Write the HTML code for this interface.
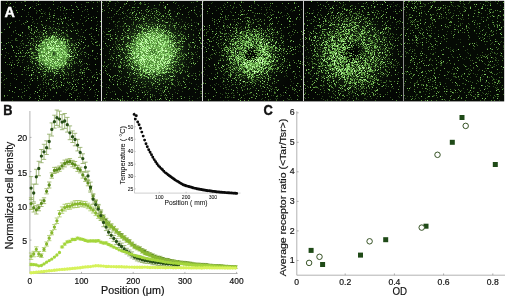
<!DOCTYPE html>
<html lang="en"><head><meta charset="utf-8"><title>Figure</title>
<style>html,body{margin:0;padding:0;background:#fff}svg{display:block;will-change:transform}text{font-family:"Liberation Sans","DejaVu Sans",sans-serif;fill:#111;stroke:#111;stroke-width:.18}.bl{stroke-width:.4}#inset text{stroke-width:.05}</style></head><body>
<svg width="506" height="298" viewBox="0 0 506 298">
<rect width="506" height="298" fill="#fff"/>
<defs><filter id="soft" x="0" y="0" width="100%" height="100%"><feGaussianBlur stdDeviation="0.45"/></filter><clipPath id="cpA"><rect x="1" y="1" width="503" height="100"/></clipPath></defs>
<rect x="0.8" y="0.8" width="503.4" height="100.6" fill="#030503"/>
<defs><radialGradient id="ug0" gradientUnits="userSpaceOnUse" cx="53.6" cy="53.6" r="40"><stop offset="0.000" stop-color="#74d25a" stop-opacity="0.2"/><stop offset="0.062" stop-color="#74d25a" stop-opacity="0.66"/><stop offset="0.325" stop-color="#74d25a" stop-opacity="0.66"/><stop offset="0.412" stop-color="#74d25a" stop-opacity="0.16"/><stop offset="0.625" stop-color="#74d25a" stop-opacity="0.05"/><stop offset="1.000" stop-color="#74d25a" stop-opacity="0.01"/></radialGradient><radialGradient id="ug1" gradientUnits="userSpaceOnUse" cx="153.2" cy="52.0" r="50"><stop offset="0.000" stop-color="#74d25a" stop-opacity="0.4"/><stop offset="0.060" stop-color="#74d25a" stop-opacity="0.6"/><stop offset="0.340" stop-color="#74d25a" stop-opacity="0.6"/><stop offset="0.480" stop-color="#74d25a" stop-opacity="0.2"/><stop offset="0.700" stop-color="#74d25a" stop-opacity="0.07"/><stop offset="1.000" stop-color="#74d25a" stop-opacity="0.02"/></radialGradient><radialGradient id="ug2" gradientUnits="userSpaceOnUse" cx="251.6" cy="55.5" r="45"><stop offset="0.000" stop-color="#74d25a" stop-opacity="0"/><stop offset="0.111" stop-color="#74d25a" stop-opacity="0.02"/><stop offset="0.222" stop-color="#74d25a" stop-opacity="0.18"/><stop offset="0.400" stop-color="#74d25a" stop-opacity="0.17"/><stop offset="0.622" stop-color="#74d25a" stop-opacity="0.05"/><stop offset="1.000" stop-color="#74d25a" stop-opacity="0.01"/></radialGradient><radialGradient id="ug3" gradientUnits="userSpaceOnUse" cx="352.0" cy="53.0" r="55"><stop offset="0.000" stop-color="#74d25a" stop-opacity="0.0"/><stop offset="0.127" stop-color="#74d25a" stop-opacity="0.02"/><stop offset="0.236" stop-color="#74d25a" stop-opacity="0.13"/><stop offset="0.473" stop-color="#74d25a" stop-opacity="0.12"/><stop offset="0.727" stop-color="#74d25a" stop-opacity="0.04"/><stop offset="1.000" stop-color="#74d25a" stop-opacity="0.01"/></radialGradient></defs>
<rect x="1" y="1" width="100" height="100" fill="url(#ug0)"/>
<rect x="102" y="1" width="100" height="100" fill="url(#ug1)"/>
<rect x="203" y="1" width="100" height="100" fill="url(#ug2)"/>
<rect x="304" y="1" width="99" height="100" fill="url(#ug3)"/>
<rect x="404" y="1" width="100" height="100" fill="#62c04a" opacity=".03"/>
<g clip-path="url(#cpA)"><g filter="url(#soft)" transform="translate(0 .5)" stroke-width="1" fill="none">
<path d="M91 1h1M97 1h1M174 1h1M118 2h1M176 2h1M212 2h1M374 2h1M224 3h1M266 3h1M296 3h1M9 4h1M40 4h1M45 4h1M389 4h1M391 4h1M396 5h1M32 6h1M58 6h1M182 6h1M215 6h1M270 6h1M393 6h1M396 6h1M399 6h1M15 7h1M92 7h1M267 7h1M286 7h1M390 7h1M48 8h1M287 8h1M402 8h1M114 9h1M226 9h1M285 9h1M317 9h1M24 10h1M65 10h1M84 10h1M290 10h1M13 11h1M37 11h1M43 11h1M87 11h1M199 11h1M292 11h1M393 11h1M45 12h1M313 12h1M45 14h1M71 15h1M284 15h1M86 16h1M93 16h1M113 16h1M94 18h1M400 18h1M299 19h1M200 21h1M196 22h1M197 23h1M207 26h1M290 26h1M15 27h1M458 30h1M98 31h1M2 32h1M102 33h1M90 34h1M469 36h1M480 37h1M444 38h1M95 39h1M458 39h1M460 39h1M11 40h2M301 41h1M476 42h1M3 45h2M450 47h1M450 49h1M474 49h1M456 50h1M300 51h1M204 52h1M467 52h1M470 54h1M203 57h1M464 59h1M442 62h1M89 69h1M205 69h1M91 72h1M94 74h1M207 75h1M203 76h1M196 78h1M210 79h1M205 80h1M111 82h1M293 83h1M106 84h1M196 84h1M85 85h1M215 85h1M283 85h1M4 87h1M29 88h1M91 88h1M77 89h1M82 89h1M41 90h1M89 90h1M106 90h1M215 90h1M63 91h1M65 92h1M225 93h1M286 93h1M30 94h1M399 94h1M79 96h1M225 96h1M280 96h1M199 97h1M231 97h1M275 98h1M97 100h1M223 100h1M228 100h1M268 100h1" stroke="#1b3213"/>
<path d="M7 1h1M33 1h1M99 1h1M106 1h1M117 1h1M196 1h1M203 1h1M327 1h1M337 1h1M412 1h1M418 1h2M435 1h1M440 1h1M450 1h1M459 1h1M469 1h2M486 1h2M490 1h1M495 1h1M21 2h1M87 2h1M144 2h1M193 2h1M234 2h1M243 2h1M254 2h1M317 2h1M393 2h1M408 2h1M432 2h1M434 2h1M450 2h1M453 2h1M469 2h1M488 2h1M36 3h1M115 3h1M124 3h1M135 3h1M141 3h1M148 3h1M211 3h1M254 3h1M358 3h1M365 3h1M404 3h1M417 3h1M423 3h1M460 3h1M463 3h1M468 3h1M480 3h1M81 4h1M125 4h1M134 4h1M225 4h1M239 4h1M257 4h1M343 4h1M345 4h1M367 4h1M380 4h1M397 4h1M417 4h1M424 4h2M108 5h1M115 5h1M129 5h1M159 5h1M163 5h1M183 5h1M208 5h1M251 5h1M270 5h1M333 5h1M352 5h1M414 5h1M425 5h1M445 5h1M452 5h1M457 5h2M487 5h1M500 5h1M62 6h1M97 6h1M107 6h1M227 6h1M233 6h1M276 6h1M285 6h1M329 6h1M332 6h1M342 6h1M366 6h1M375 6h1M419 6h1M424 6h1M430 6h1M447 6h1M453 6h1M455 6h1M458 6h1M463 6h1M470 6h1M49 7h1M81 7h1M137 7h1M179 7h1M194 7h1M220 7h1M241 7h1M261 7h1M265 7h1M269 7h1M341 7h1M371 7h1M380 7h1M464 7h2M112 8h1M122 8h1M153 8h4M254 8h2M352 8h1M416 8h1M445 8h1M457 8h1M60 9h1M67 9h1M69 9h1M73 9h1M85 9h1M131 9h1M134 9h1M158 9h1M169 9h1M194 9h1M203 9h1M261 9h1M269 9h1M271 9h1M291 9h1M301 9h1M329 9h1M337 9h1M345 9h1M365 9h1M395 9h1M400 9h1M409 9h1M418 9h1M448 9h2M464 9h1M489 9h1M7 10h1M36 10h1M60 10h1M63 10h1M118 10h1M131 10h1M164 10h1M170 10h1M216 10h1M251 10h1M266 10h1M293 10h1M313 10h1M333 10h1M373 10h1M376 10h2M381 10h1M414 10h1M421 10h1M443 10h1M454 10h1M474 10h2M489 10h1M40 11h1M97 11h1M116 11h1M123 11h1M156 11h1M158 11h1M174 11h1M189 11h1M230 11h1M243 11h1M274 11h1M278 11h1M328 11h1M330 11h1M332 11h1M350 11h1M359 11h1M371 11h1M424 11h1M459 11h1M463 11h1M465 11h1M478 11h1M499 11h1M28 12h1M36 12h1M49 12h1M147 12h1M194 12h1M231 12h1M240 12h1M253 12h1M267 12h1M270 12h1M339 12h1M350 12h2M355 12h1M359 12h1M363 12h1M406 12h1M419 12h1M448 12h1M36 13h1M49 13h1M54 13h1M63 13h1M125 13h1M129 13h1M143 13h1M150 13h1M155 13h1M195 13h1M207 13h1M247 13h1M261 13h1M266 13h1M305 13h1M311 13h1M343 13h1M397 13h1M425 13h1M449 13h1M453 13h1M28 14h1M118 14h1M120 14h1M131 14h1M156 14h1M168 14h1M188 14h1M201 14h1M243 14h1M270 14h1M288 14h1M320 14h1M357 14h1M377 14h1M385 14h1M410 14h1M432 14h1M478 14h1M487 14h1M64 15h1M126 15h1M132 15h1M146 15h1M225 15h1M232 15h1M265 15h1M286 15h1M317 15h1M338 15h1M340 15h2M406 15h1M409 15h1M430 15h1M436 15h1M439 15h1M499 15h1M40 16h1M49 16h2M60 16h1M141 16h1M155 16h1M171 16h1M175 16h1M200 16h1M254 16h1M330 16h1M336 16h1M338 16h1M416 16h1M421 16h1M441 16h1M477 16h2M497 16h1M32 17h1M39 17h1M68 17h1M73 17h1M107 17h1M146 17h1M166 17h1M186 17h1M225 17h1M227 17h1M245 17h2M249 17h1M274 17h1M288 17h1M300 17h1M330 17h1M339 17h1M348 17h1M365 17h1M378 17h1M380 17h1M390 17h1M446 17h1M462 17h1M481 17h1M497 17h1M39 18h1M47 18h1M56 18h1M58 18h1M60 18h1M119 18h1M144 18h1M147 18h1M160 18h1M172 18h1M178 18h1M225 18h1M244 18h1M258 18h1M276 18h1M318 18h1M326 18h1M339 18h1M365 18h1M373 18h1M375 18h1M393 18h1M408 18h1M431 18h1M438 18h2M446 18h1M452 18h1M460 18h1M488 18h1M36 19h1M80 19h1M111 19h1M126 19h1M133 19h1M152 19h1M159 19h1M171 19h1M181 19h1M191 19h1M220 19h1M225 19h1M232 19h1M236 19h1M256 19h1M264 19h1M287 19h1M311 19h1M313 19h1M331 19h1M352 19h1M408 19h1M431 19h1M463 19h1M481 19h1M486 19h1M19 20h1M26 20h1M68 20h1M173 20h1M191 20h1M216 20h1M223 20h1M259 20h1M309 20h1M314 20h1M326 20h1M328 20h1M349 20h1M351 20h1M355 20h1M361 20h1M388 20h1M410 20h1M412 20h1M434 20h1M473 20h1M475 20h1M492 20h1M503 20h1M33 21h1M63 21h1M85 21h1M97 21h1M114 21h1M119 21h1M133 21h1M138 21h1M168 21h1M170 21h1M182 21h1M245 21h1M247 21h1M250 21h1M272 21h1M292 21h1M316 21h1M364 21h1M373 21h1M398 21h1M416 21h1M26 22h1M32 22h1M77 22h1M113 22h1M146 22h1M179 22h1M185 22h1M194 22h1M223 22h1M248 22h2M343 22h1M366 22h1M392 22h1M414 22h1M432 22h1M7 23h1M34 23h1M66 23h1M77 23h2M148 23h1M174 23h1M188 23h1M191 23h1M224 23h1M230 23h1M240 23h1M247 23h1M252 23h2M310 23h1M399 23h1M424 23h1M460 23h1M462 23h1M477 23h1M480 23h1M21 24h1M24 24h1M42 24h1M59 24h1M67 24h1M77 24h1M97 24h1M115 24h1M124 24h1M131 24h1M169 24h2M233 24h1M246 24h1M251 24h1M264 24h1M326 24h1M336 24h1M365 24h1M371 24h1M374 24h1M377 24h1M396 24h1M424 24h1M460 24h1M469 24h1M477 24h1M496 24h2M499 24h1M46 25h1M96 25h1M123 25h1M127 25h2M132 25h1M141 25h1M189 25h1M192 25h1M203 25h1M224 25h1M230 25h1M334 25h1M390 25h1M415 25h1M417 25h1M449 25h1M456 25h1M458 25h1M488 25h1M9 26h1M58 26h1M115 26h1M117 26h1M120 26h1M122 26h2M140 26h1M172 26h1M179 26h1M195 26h1M226 26h1M241 26h1M251 26h1M289 26h1M319 26h1M371 26h1M410 26h1M485 26h1M503 26h1M62 27h1M66 27h1M224 27h1M237 27h1M271 27h1M385 27h1M387 27h1M394 27h1M426 27h1M446 27h1M454 27h1M476 27h1M48 28h1M50 28h1M52 28h1M58 28h1M106 28h1M108 28h1M117 28h1M124 28h1M136 28h1M196 28h1M201 28h1M220 28h1M224 28h1M233 28h1M243 28h1M270 28h1M272 28h1M314 28h2M381 28h1M383 28h1M401 28h1M408 28h1M416 28h1M431 28h1M469 28h1M479 28h1M501 28h1M51 29h1M57 29h1M67 29h1M77 29h1M86 29h1M93 29h1M99 29h1M111 29h1M113 29h1M128 29h1M170 29h1M186 29h1M211 29h1M250 29h1M260 29h1M262 29h1M293 29h1M374 29h2M388 29h1M390 29h1M404 29h1M457 29h1M37 30h1M49 30h1M58 30h1M73 30h1M77 30h1M178 30h1M193 30h1M198 30h1M200 30h1M239 30h1M320 30h1M388 30h1M410 30h1M418 30h1M427 30h1M429 30h1M438 30h1M34 31h1M40 31h1M56 31h1M103 31h1M130 31h1M207 31h2M213 31h1M216 31h1M219 31h2M237 31h1M265 31h1M271 31h1M279 31h1M308 31h1M373 31h1M384 31h1M447 31h1M451 31h1M454 31h1M474 31h1M480 31h1M490 31h2M13 32h1M39 32h1M41 32h2M104 32h1M115 32h1M180 32h1M230 32h1M265 32h1M273 32h2M289 32h1M302 32h1M378 32h1M384 32h1M388 32h1M462 32h1M486 32h1M492 32h1M501 32h1M16 33h1M22 33h1M32 33h1M34 33h1M45 33h1M55 33h1M65 33h1M77 33h1M91 33h1M126 33h1M212 33h1M220 33h1M224 33h1M232 33h1M281 33h1M317 33h1M378 33h1M392 33h1M434 33h1M451 33h1M476 33h1M485 33h1M496 33h1M20 34h1M28 34h1M42 34h1M109 34h1M125 34h1M130 34h1M225 34h1M229 34h1M270 34h1M272 34h2M275 34h1M293 34h1M309 34h1M396 34h1M438 34h1M11 35h1M19 35h1M25 35h1M42 35h1M66 35h1M78 35h1M98 35h1M110 35h1M112 35h1M117 35h1M184 35h1M193 35h1M283 35h1M289 35h1M291 35h1M309 35h1M315 35h1M320 35h1M389 35h1M413 35h1M418 35h1M428 35h1M29 36h1M31 36h1M64 36h1M68 36h1M80 36h1M94 36h1M104 36h1M126 36h1M180 36h1M185 36h1M226 36h1M408 36h1M416 36h1M429 36h2M478 36h1M487 36h1M489 36h1M116 37h1M196 37h1M226 37h1M275 37h1M379 37h1M384 37h1M391 37h1M393 37h1M418 37h1M423 37h1M430 37h1M482 37h1M501 37h3M8 38h1M15 38h1M38 38h1M91 38h1M106 38h1M112 38h1M120 38h1M122 38h1M182 38h1M188 38h1M212 38h1M227 38h1M282 38h1M302 38h1M382 38h2M385 38h1M395 38h1M401 38h1M421 38h1M446 38h2M489 38h1M77 39h1M79 39h1M81 39h1M93 39h1M112 39h1M117 39h1M216 39h1M227 39h1M386 39h1M392 39h1M419 39h1M429 39h1M468 39h1M15 40h1M17 40h1M69 40h1M72 40h1M74 40h1M79 40h1M117 40h1M119 40h1M209 40h1M218 40h1M274 40h1M290 40h1M409 40h1M413 40h1M415 40h1M426 40h1M33 41h2M96 41h1M103 41h1M118 41h1M195 41h1M210 41h1M321 41h1M437 41h1M441 41h1M487 41h1M497 41h1M501 41h1M76 42h1M115 42h1M206 42h1M221 42h1M223 42h1M225 42h1M307 42h1M315 42h1M319 42h1M405 42h1M414 42h1M420 42h1M460 42h1M492 42h1M500 42h1M503 42h1M20 43h1M22 43h2M72 43h1M115 43h1M188 43h1M200 43h1M204 43h1M220 43h1M281 43h1M283 43h1M313 43h1M316 43h1M319 43h1M387 43h1M393 43h1M400 43h1M412 43h1M418 43h1M469 43h2M491 43h1M23 44h1M30 44h1M71 44h1M73 44h1M80 44h1M99 44h1M116 44h1M209 44h1M275 44h1M392 44h1M456 44h1M476 44h1M485 44h1M490 44h1M21 45h1M25 45h1M27 45h2M75 45h1M117 45h1M188 45h1M218 45h1M223 45h1M300 45h1M395 45h1M433 45h1M437 45h1M503 45h1M19 46h1M87 46h1M115 46h1M117 46h1M119 46h1M125 46h1M189 46h2M218 46h1M279 46h1M295 46h1M361 46h1M404 46h1M417 46h1M429 46h1M431 46h1M503 46h1M17 47h1M73 47h1M191 47h1M219 47h1M224 47h1M291 47h1M299 47h1M306 47h1M317 47h1M388 47h1M410 47h1M433 47h1M503 47h1M19 48h2M32 48h1M103 48h1M282 48h2M310 48h1M354 48h1M390 48h2M393 48h1M422 48h1M435 48h1M473 48h1M487 48h1M80 49h1M114 49h1M120 49h1M278 49h1M352 49h1M384 49h1M386 49h1M392 49h1M410 49h1M412 49h1M414 49h1M433 49h1M453 49h1M467 49h1M491 49h1M503 49h1M79 50h1M93 50h1M113 50h1M305 50h1M359 50h1M414 50h1M465 50h1M20 51h1M30 51h1M74 51h1M82 51h1M109 51h1M114 51h1M197 51h1M221 51h1M285 51h1M289 51h1M298 51h1M389 51h1M400 51h1M450 51h1M491 51h1M6 52h1M23 52h1M31 52h1M76 52h1M81 52h1M222 52h1M308 52h1M406 52h1M435 52h1M492 52h1M500 52h1M8 53h1M20 53h2M86 53h1M289 53h1M302 53h1M398 53h1M406 53h1M408 53h1M411 53h1M414 53h2M430 53h1M468 53h1M494 53h2M192 54h1M211 54h2M221 54h1M224 54h1M252 54h1M281 54h1M286 54h1M302 54h1M358 54h1M402 54h1M424 54h1M451 54h1M477 54h1M485 54h1M488 54h1M496 54h1M15 55h1M79 55h1M90 55h1M92 55h1M105 55h1M111 55h1M210 55h1M219 55h1M281 55h1M315 55h2M392 55h1M420 55h1M480 55h1M490 55h1M501 55h1M11 56h1M23 56h1M30 56h1M96 56h1M111 56h1M223 56h1M306 56h1M312 56h1M452 56h1M4 57h1M27 57h1M29 57h1M88 57h1M110 57h1M120 57h1M197 57h1M206 57h1M210 57h1M304 57h1M309 57h1M412 57h1M466 57h1M492 57h1M18 58h1M31 58h1M77 58h1M95 58h1M199 58h1M211 58h1M220 58h1M278 58h1M308 58h1M389 58h1M412 58h1M422 58h1M430 58h1M440 58h1M462 58h1M493 58h1M496 58h1M503 58h1M23 59h1M79 59h2M82 59h1M116 59h1M120 59h1M182 59h1M190 59h1M220 59h1M223 59h1M284 59h1M287 59h1M387 59h1M389 59h1M430 59h1M479 59h1M495 59h1M12 60h1M16 60h1M19 60h1M22 60h1M31 60h1M79 60h1M123 60h1M193 60h1M206 60h1M218 60h2M413 60h1M424 60h1M470 60h1M496 60h1M104 61h1M190 61h1M286 61h1M298 61h1M304 61h1M385 61h1M389 61h1M412 61h1M488 61h1M12 62h1M22 62h1M123 62h1M182 62h1M184 62h1M189 62h1M282 62h1M302 62h1M312 62h1M391 62h1M443 62h1M447 62h1M497 62h1M17 63h1M75 63h1M77 63h1M80 63h1M84 63h1M110 63h1M205 63h1M281 63h1M309 63h1M312 63h1M315 63h1M387 63h1M389 63h1M446 63h1M454 63h1M484 63h1M7 64h1M82 64h1M89 64h1M114 64h1M119 64h1M127 64h1M180 64h1M186 64h1M276 64h1M304 64h1M312 64h1M315 64h1M383 64h1M399 64h1M417 64h1M431 64h1M441 64h1M463 64h1M485 64h1M489 64h1M498 64h1M78 65h1M81 65h1M102 65h1M104 65h1M107 65h1M113 65h1M118 65h1M179 65h1M208 65h1M216 65h1M281 65h1M287 65h1M309 65h1M318 65h1M320 65h1M385 65h1M393 65h3M397 65h1M405 65h1M432 65h1M440 65h2M487 65h1M496 65h1M80 66h1M113 66h1M184 66h1M186 66h1M188 66h1M191 66h1M279 66h1M285 66h1M314 66h1M387 66h1M409 66h1M466 66h1M493 66h2M13 67h1M107 67h1M382 67h1M396 67h1M417 67h1M420 67h1M436 67h2M491 67h1M11 68h1M69 68h1M74 68h1M127 68h1M227 68h1M287 68h1M290 68h1M314 68h1M317 68h1M419 68h2M473 68h1M485 68h1M81 69h1M86 69h1M96 69h1M182 69h1M187 69h1M274 69h1M309 69h1M320 69h1M395 69h1M434 69h1M456 69h1M467 69h1M470 69h1M479 69h1M502 69h1M10 70h1M26 70h1M36 70h1M80 70h1M84 70h1M90 70h1M184 70h1M386 70h1M478 70h1M486 70h1M22 71h1M36 71h1M43 71h1M71 71h1M73 71h1M81 71h1M106 71h1M173 71h1M181 71h1M199 71h1M225 71h1M277 71h1M279 71h1M285 71h1M406 71h1M417 71h1M449 71h1M469 71h1M491 71h1M63 72h1M72 72h1M83 72h1M103 72h1M119 72h1M179 72h1M228 72h1M292 72h1M309 72h1M398 72h1M406 72h1M408 72h1M434 72h1M499 72h1M501 72h1M71 73h1M80 73h1M106 73h1M108 73h1M121 73h1M132 73h1M193 73h1M201 73h1M211 73h1M224 73h1M274 73h1M286 73h1M295 73h1M309 73h1M318 73h1M377 73h1M385 73h1M410 73h1M419 73h1M451 73h1M453 73h1M468 73h1M470 73h1M473 73h1M497 73h1M14 74h1M26 74h1M32 74h2M40 74h1M65 74h1M73 74h1M96 74h1M131 74h1M174 74h1M188 74h1M204 74h1M215 74h1M295 74h1M316 74h1M381 74h1M397 74h1M406 74h1M454 74h1M462 74h1M464 74h1M468 74h1M475 74h1M477 74h1M482 74h1M35 75h1M68 75h1M73 75h1M81 75h1M93 75h1M129 75h2M175 75h1M188 75h1M191 75h1M199 75h1M224 75h1M231 75h1M270 75h2M286 75h1M299 75h1M313 75h1M323 75h1M383 75h1M445 75h1M461 75h1M481 75h1M17 76h1M45 76h1M54 76h1M63 76h1M79 76h1M129 76h1M137 76h1M189 76h1M196 76h1M284 76h1M287 76h1M300 76h1M304 76h1M312 76h1M324 76h1M386 76h1M453 76h2M483 76h1M1 77h1M37 77h1M44 77h2M53 77h1M73 77h1M125 77h1M127 77h1M167 77h1M169 77h1M177 77h1M183 77h1M222 77h1M230 77h1M269 77h1M304 77h1M318 77h1M382 77h1M402 77h1M410 77h1M424 77h1M430 77h1M455 77h1M458 77h1M470 77h1M489 77h1M492 77h1M501 77h1M14 78h1M34 78h1M53 78h1M56 78h1M63 78h1M68 78h1M81 78h1M116 78h1M130 78h1M165 78h1M172 78h1M184 78h1M220 78h1M223 78h2M226 78h1M233 78h1M311 78h1M321 78h1M419 78h1M427 78h2M446 78h1M448 78h1M493 78h1M25 79h1M30 79h1M43 79h1M49 79h1M74 79h1M76 79h1M86 79h1M89 79h1M119 79h1M130 79h1M158 79h1M160 79h1M198 79h1M274 79h1M290 79h1M406 79h1M451 79h1M465 79h1M482 79h1M494 79h1M496 79h1M3 80h1M37 80h1M42 80h1M48 80h1M52 80h1M73 80h1M75 80h1M77 80h1M114 80h1M170 80h1M175 80h1M239 80h1M254 80h1M259 80h1M265 80h1M277 80h1M314 80h1M324 80h1M328 80h1M380 80h2M389 80h1M417 80h1M430 80h1M435 80h1M67 81h1M91 81h1M110 81h1M137 81h1M142 81h1M150 81h1M159 81h1M224 81h1M248 81h1M253 81h1M255 81h2M291 81h1M307 81h1M386 81h1M389 81h1M391 81h1M398 81h1M417 81h1M432 81h2M470 81h1M494 81h1M499 81h1M1 82h1M48 82h1M70 82h1M77 82h1M91 82h1M102 82h1M120 82h1M152 82h1M158 82h1M189 82h1M203 82h1M222 82h1M253 82h1M264 82h1M272 82h1M304 82h1M323 82h1M375 82h1M377 82h1M381 82h1M417 82h1M429 82h1M439 82h2M485 82h1M500 82h1M10 83h1M53 83h1M64 83h1M71 83h1M117 83h1M137 83h1M143 83h1M146 83h1M151 83h1M159 83h2M171 83h1M178 83h1M180 83h1M216 83h1M245 83h1M263 83h1M274 83h1M298 83h1M372 83h1M415 83h1M440 83h1M445 83h1M462 83h2M499 83h1M40 84h1M55 84h1M69 84h1M83 84h1M94 84h1M120 84h1M144 84h1M214 84h1M218 84h1M223 84h1M233 84h1M237 84h1M245 84h1M251 84h1M255 84h1M264 84h1M266 84h1M311 84h1M323 84h1M331 84h1M370 84h1M386 84h1M414 84h1M417 84h1M422 84h2M432 84h1M457 84h1M494 84h1M10 85h1M27 85h1M53 85h1M109 85h1M117 85h1M133 85h1M177 85h1M179 85h1M210 85h1M225 85h1M231 85h1M247 85h1M265 85h1M312 85h1M324 85h1M385 85h1M404 85h1M421 85h1M455 85h1M496 85h1M46 86h1M58 86h1M70 86h1M132 86h1M134 86h1M175 86h1M186 86h1M198 86h1M220 86h1M262 86h1M270 86h2M297 86h1M310 86h1M315 86h2M322 86h1M354 86h1M362 86h1M364 86h1M371 86h2M386 86h1M399 86h1M414 86h1M429 86h2M439 86h1M443 86h1M446 86h1M488 86h1M493 86h1M43 87h1M52 87h1M54 87h1M57 87h1M66 87h1M106 87h1M118 87h1M143 87h1M145 87h1M152 87h1M226 87h1M253 87h1M286 87h1M308 87h1M338 87h1M354 87h1M391 87h1M410 87h1M434 87h1M473 87h2M495 87h1M497 87h1M501 87h1M40 88h1M46 88h1M49 88h1M52 88h1M57 88h1M68 88h1M109 88h1M119 88h1M134 88h1M149 88h2M160 88h2M182 88h1M241 88h1M270 88h1M272 88h1M292 88h1M318 88h1M323 88h1M327 88h1M379 88h1M385 88h1M393 88h1M429 88h1M435 88h1M474 88h1M479 88h1M485 88h1M496 88h1M503 88h1M21 89h1M40 89h1M65 89h1M67 89h1M174 89h1M188 89h1M226 89h1M242 89h1M244 89h1M249 89h1M266 89h1M274 89h1M293 89h1M301 89h1M341 89h1M347 89h1M356 89h1M358 89h1M371 89h1M446 89h2M454 89h1M74 90h2M94 90h1M121 90h1M141 90h1M150 90h1M160 90h1M162 90h1M178 90h1M237 90h1M286 90h1M305 90h1M333 90h1M339 90h1M344 90h1M375 90h1M390 90h1M429 90h1M461 90h1M112 91h1M114 91h1M148 91h1M162 91h1M182 91h1M200 91h1M263 91h1M265 91h1M269 91h1M271 91h1M274 91h1M296 91h1M341 91h3M350 91h1M363 91h1M366 91h1M369 91h1M390 91h1M423 91h1M426 91h1M434 91h1M439 91h1M447 91h1M469 91h1M488 91h1M73 92h1M80 92h1M95 92h1M107 92h1M110 92h1M126 92h1M175 92h1M225 92h1M232 92h1M283 92h1M297 92h1M305 92h1M353 92h2M362 92h1M367 92h1M371 92h1M399 92h1M415 92h1M455 92h1M457 92h1M464 92h1M482 92h1M43 93h1M47 93h1M78 93h1M115 93h1M159 93h1M161 93h1M200 93h1M220 93h1M233 93h1M247 93h1M249 93h2M275 93h1M294 93h1M328 93h1M351 93h1M361 93h1M445 93h1M453 93h1M483 93h1M488 93h1M84 94h1M95 94h1M136 94h1M222 94h1M257 94h1M319 94h1M334 94h1M343 94h1M365 94h1M379 94h1M387 94h1M416 94h2M425 94h1M446 94h1M468 94h1M477 94h1M479 94h1M487 94h1M38 95h1M43 95h1M47 95h1M60 95h1M87 95h1M160 95h1M215 95h1M233 95h2M239 95h1M253 95h2M271 95h1M273 95h1M281 95h1M283 95h1M346 95h1M353 95h1M355 95h1M364 95h1M374 95h1M416 95h1M433 95h2M459 95h1M477 95h1M481 95h1M490 95h1M29 96h1M94 96h1M127 96h1M152 96h1M180 96h1M189 96h1M192 96h1M229 96h1M298 96h1M322 96h1M329 96h1M331 96h1M367 96h1M398 96h1M407 96h1M415 96h1M433 96h1M442 96h1M459 96h1M474 96h1M495 96h1M21 97h1M106 97h1M132 97h1M143 97h1M155 97h1M220 97h1M228 97h1M234 97h1M290 97h1M304 97h1M333 97h1M356 97h1M390 97h1M399 97h1M418 97h1M427 97h1M22 98h1M77 98h1M88 98h1M135 98h1M147 98h1M172 98h1M197 98h1M244 98h1M262 98h1M277 98h1M287 98h1M321 98h1M337 98h2M342 98h2M352 98h1M364 98h2M371 98h1M376 98h1M405 98h1M419 98h1M457 98h1M493 98h1M40 99h1M80 99h1M122 99h1M147 99h1M161 99h1M261 99h1M270 99h1M276 99h1M288 99h2M291 99h1M323 99h1M327 99h1M348 99h1M356 99h1M358 99h1M366 99h1M414 99h1M441 99h1M472 99h1M12 100h1M75 100h1M84 100h1M103 100h1M105 100h1M127 100h1M137 100h1M147 100h1M152 100h1M155 100h1M172 100h1M189 100h1M264 100h1M325 100h1M327 100h1M331 100h1M336 100h1M340 100h1M347 100h1M363 100h1M445 100h1M480 100h1M484 100h1M499 100h1" stroke="#29491c"/>
<path d="M24 1h2M38 1h1M53 1h1M241 1h1M349 1h1M376 1h1M411 1h1M414 1h1M433 1h1M463 1h1M485 1h1M15 2h1M60 2h1M86 2h1M93 2h1M97 2h1M160 2h1M191 2h1M326 2h1M415 2h1M420 2h1M430 2h1M139 3h2M175 3h1M340 3h1M363 3h1M428 3h1M490 3h1M497 3h1M140 4h1M144 4h1M159 4h1M264 4h1M451 4h1M490 4h1M36 5h1M178 5h1M223 5h1M318 5h1M323 5h1M336 5h1M343 5h1M351 5h1M395 5h1M123 6h1M196 6h1M355 6h1M421 6h2M133 7h1M147 7h1M233 7h1M236 7h1M251 7h1M441 7h1M503 7h1M177 8h1M201 8h1M218 8h1M232 8h1M295 8h1M321 8h1M326 8h1M331 8h1M342 8h1M368 8h1M420 8h1M443 8h1M466 8h1M487 8h1M50 9h1M128 9h1M151 9h1M221 9h1M242 9h1M266 9h1M346 9h1M352 9h1M385 9h1M429 9h1M437 9h2M490 9h1M54 10h1M137 10h1M145 10h1M240 10h1M272 10h1M347 10h1M436 10h1M485 10h1M82 11h1M117 11h1M146 11h1M151 11h1M157 11h1M357 11h1M383 11h1M493 11h1M108 12h1M130 12h1M178 12h1M188 12h1M252 12h1M318 12h1M331 12h1M349 12h1M367 12h1M450 12h1M492 12h2M12 13h1M42 13h1M44 13h1M66 13h1M139 13h1M220 13h1M255 13h1M280 13h1M331 13h1M340 13h1M344 13h1M349 13h1M353 13h1M355 13h1M358 13h1M377 13h1M379 13h1M396 13h1M440 13h1M460 13h1M481 13h1M489 13h1M88 14h1M114 14h1M167 14h1M238 14h1M244 14h1M246 14h1M272 14h2M317 14h1M356 14h1M409 14h1M433 14h1M462 14h1M468 14h1M503 14h1M150 15h1M158 15h1M169 15h1M200 15h1M254 15h1M321 15h1M336 15h1M350 15h1M358 15h1M374 15h1M431 15h1M453 15h1M10 16h1M26 16h1M30 16h1M42 16h1M127 16h1M197 16h1M268 16h1M282 16h1M340 16h1M344 16h1M356 16h1M359 16h1M361 16h1M452 16h1M490 16h1M494 16h1M500 16h1M84 17h1M109 17h1M111 17h1M124 17h1M133 17h1M142 17h1M145 17h1M154 17h1M248 17h1M347 17h1M356 17h1M358 17h1M364 17h1M409 17h1M443 17h1M483 17h1M140 18h2M161 18h1M165 18h1M212 18h1M319 18h1M330 18h1M345 18h1M348 18h1M351 18h1M355 18h1M364 18h1M369 18h1M441 18h1M468 18h1M497 18h1M32 19h1M131 19h1M135 19h1M140 19h1M144 19h1M173 19h1M228 19h1M234 19h1M336 19h1M344 19h1M346 19h1M351 19h1M355 19h1M365 19h1M420 19h1M425 19h1M433 19h1M448 19h1M461 19h1M135 20h1M163 20h1M212 20h1M249 20h1M253 20h1M264 20h1M335 20h1M344 20h1M346 20h1M399 20h1M486 20h1M15 21h1M50 21h1M61 21h1M118 21h1M123 21h1M162 21h1M164 21h1M234 21h1M257 21h2M326 21h1M329 21h1M334 21h1M345 21h1M349 21h1M352 21h2M365 21h1M368 21h1M370 21h1M377 21h1M397 21h1M413 21h1M417 21h2M451 21h1M458 21h1M11 22h1M117 22h1M151 22h2M170 22h1M214 22h1M237 22h1M250 22h1M330 22h1M332 22h1M356 22h2M367 22h1M371 22h1M385 22h1M396 22h1M410 22h1M450 22h1M500 22h1M37 23h1M59 23h1M72 23h1M82 23h1M109 23h1M124 23h1M133 23h1M143 23h1M154 23h1M158 23h1M172 23h1M175 23h1M246 23h1M277 23h1M355 23h1M358 23h1M407 23h1M432 23h1M468 23h1M7 24h1M41 24h1M71 24h1M137 24h1M141 24h1M149 24h2M155 24h1M163 24h1M187 24h1M258 24h2M269 24h1M289 24h1M293 24h1M295 24h1M304 24h1M321 24h1M325 24h1M337 24h1M339 24h1M343 24h1M345 24h1M354 24h1M369 24h2M411 24h1M414 24h1M430 24h1M445 24h1M488 24h1M83 25h1M117 25h1M126 25h1M142 25h1M144 25h1M147 25h1M184 25h1M235 25h1M237 25h1M269 25h1M319 25h1M351 25h1M433 25h1M450 25h1M460 25h1M494 25h1M29 26h1M34 26h1M49 26h1M146 26h1M152 26h1M156 26h1M163 26h1M165 26h1M169 26h1M181 26h1M218 26h1M228 26h1M245 26h1M248 26h1M267 26h1M269 26h1M314 26h1M322 26h1M335 26h3M347 26h1M353 26h1M359 26h1M363 26h1M447 26h1M53 27h1M63 27h1M73 27h1M91 27h1M136 27h1M176 27h1M227 27h1M240 27h1M247 27h2M259 27h1M275 27h1M284 27h1M333 27h1M337 27h1M341 27h1M356 27h1M362 27h1M398 27h1M404 27h1M429 27h1M435 27h1M466 27h1M468 27h1M49 28h1M90 28h2M129 28h1M132 28h1M141 28h1M143 28h1M146 28h1M150 28h1M155 28h1M158 28h1M160 28h1M164 28h1M175 28h1M180 28h1M184 28h2M234 28h1M239 28h1M259 28h1M306 28h1M334 28h1M340 28h1M344 28h2M354 28h1M359 28h1M371 28h1M415 28h1M417 28h1M421 28h1M466 28h1M489 28h1M29 29h1M56 29h1M81 29h1M142 29h1M151 29h1M185 29h1M200 29h1M206 29h1M209 29h1M222 29h1M241 29h1M255 29h2M271 29h1M274 29h1M326 29h1M350 29h1M373 29h1M422 29h1M442 29h1M464 29h1M483 29h1M35 30h1M52 30h1M135 30h1M139 30h1M169 30h1M203 30h1M235 30h1M248 30h1M252 30h1M259 30h1M263 30h1M281 30h1M313 30h1M333 30h1M349 30h1M355 30h2M369 30h1M372 30h1M420 30h1M431 30h1M13 31h1M67 31h1M78 31h1M124 31h1M134 31h1M139 31h1M161 31h2M178 31h1M181 31h1M234 31h1M236 31h1M242 31h2M245 31h1M249 31h2M255 31h2M261 31h1M269 31h1M323 31h2M336 31h3M341 31h1M348 31h1M354 31h2M357 31h1M364 31h2M367 31h1M377 31h1M458 31h1M493 31h1M38 32h1M83 32h1M130 32h1M139 32h1M171 32h1M174 32h2M184 32h1M199 32h1M206 32h1M237 32h1M243 32h1M251 32h1M255 32h1M261 32h1M264 32h1M276 32h1M322 32h1M326 32h2M331 32h1M338 32h2M344 32h2M354 32h1M360 32h2M376 32h1M382 32h1M386 32h1M50 33h1M56 33h1M63 33h1M127 33h1M129 33h1M132 33h3M167 33h1M177 33h1M206 33h1M221 33h1M225 33h1M228 33h1M241 33h3M251 33h1M255 33h1M257 33h1M260 33h1M278 33h1M313 33h1M343 33h1M356 33h3M366 33h1M385 33h1M390 33h1M431 33h1M39 34h1M53 34h1M55 34h1M66 34h2M98 34h1M108 34h1M134 34h1M179 34h1M182 34h1M233 34h1M243 34h2M256 34h1M277 34h1M321 34h1M329 34h1M331 34h1M341 34h2M347 34h1M349 34h1M361 34h1M363 34h1M365 34h1M370 34h1M382 34h1M390 34h1M393 34h1M446 34h1M489 34h1M46 35h2M50 35h1M53 35h1M55 35h1M58 35h1M61 35h1M67 35h1M121 35h1M167 35h2M206 35h1M218 35h1M230 35h1M238 35h3M244 35h1M258 35h2M330 35h3M337 35h1M351 35h1M357 35h1M361 35h1M367 35h1M369 35h1M373 35h1M377 35h1M492 35h1M22 36h1M37 36h1M47 36h1M49 36h1M57 36h1M63 36h1M117 36h1M124 36h1M214 36h1M221 36h1M228 36h1M233 36h2M236 36h1M239 36h1M249 36h1M255 36h1M261 36h1M263 36h1M265 36h3M283 36h1M335 36h1M337 36h1M339 36h1M358 36h1M364 36h1M366 36h1M376 36h1M379 36h1M392 36h1M415 36h1M431 36h1M444 36h1M40 37h1M44 37h1M46 37h1M48 37h1M56 37h1M58 37h1M64 37h1M120 37h1M131 37h1M176 37h1M181 37h2M185 37h1M200 37h1M210 37h1M213 37h1M238 37h1M244 37h3M256 37h1M260 37h1M269 37h1M273 37h1M276 37h1M290 37h1M309 37h1M319 37h1M325 37h1M328 37h1M348 37h1M358 37h1M363 37h1M370 37h1M378 37h1M383 37h1M386 37h1M389 37h1M398 37h1M424 37h1M16 38h1M33 38h1M40 38h1M43 38h1M46 38h1M92 38h1M134 38h1M176 38h1M222 38h1M233 38h1M252 38h1M254 38h1M260 38h1M262 38h1M265 38h1M270 38h1M280 38h1M314 38h1M318 38h1M324 38h1M331 38h1M341 38h1M343 38h1M351 38h1M360 38h1M363 38h1M373 38h1M376 38h1M378 38h2M397 38h1M422 38h1M434 38h2M15 39h1M33 39h1M41 39h1M65 39h2M68 39h1M123 39h1M127 39h1M221 39h1M229 39h1M231 39h1M233 39h1M245 39h1M259 39h1M264 39h1M270 39h1M277 39h1M287 39h1M300 39h1M323 39h1M326 39h1M328 39h1M330 39h1M344 39h1M347 39h1M352 39h1M354 39h1M359 39h1M366 39h1M368 39h1M377 39h1M390 39h1M444 39h1M483 39h1M16 40h1M29 40h1M33 40h1M37 40h1M40 40h1M68 40h1M173 40h1M179 40h1M213 40h1M225 40h1M233 40h1M237 40h2M244 40h1M263 40h1M270 40h1M329 40h1M344 40h1M347 40h1M351 40h2M365 40h1M367 40h5M374 40h1M383 40h1M398 40h1M412 40h1M417 40h1M435 40h1M21 41h1M69 41h1M91 41h1M97 41h1M115 41h1M131 41h1M174 41h1M230 41h1M232 41h1M235 41h2M268 41h1M273 41h1M324 41h1M335 41h1M349 41h3M353 41h1M355 41h1M357 41h1M370 41h1M372 41h1M376 41h1M428 41h1M446 41h1M486 41h1M496 41h1M10 42h1M31 42h1M127 42h1M173 42h1M179 42h1M234 42h1M237 42h1M312 42h1M344 42h1M371 42h1M373 42h2M377 42h1M33 43h1M35 43h1M178 43h1M194 43h1M207 43h1M233 43h1M328 43h1M353 43h2M372 43h1M376 43h1M409 43h1M417 43h1M40 44h1M93 44h1M113 44h1M118 44h1M128 44h1M130 44h2M180 44h1M188 44h2M217 44h1M239 44h1M246 44h1M267 44h1M331 44h1M352 44h1M356 44h1M363 44h2M366 44h1M375 44h1M379 44h1M381 44h1M387 44h1M391 44h1M30 45h1M72 45h1M96 45h1M106 45h1M109 45h1M179 45h1M189 45h1M221 45h1M225 45h2M268 45h1M283 45h1M304 45h1M320 45h1M327 45h1M356 45h1M371 45h3M376 45h1M416 45h1M422 45h1M477 45h1M88 46h1M107 46h1M129 46h1M178 46h1M180 46h1M183 46h1M213 46h1M229 46h2M245 46h1M250 46h1M270 46h1M272 46h1M275 46h1M290 46h1M297 46h1M314 46h1M329 46h1M345 46h2M362 46h1M365 46h1M379 46h2M385 46h1M25 47h1M68 47h1M70 47h1M116 47h1M130 47h1M178 47h1M189 47h1M199 47h1M229 47h2M250 47h1M268 47h1M328 47h1M363 47h4M377 47h1M31 48h1M35 48h1M68 48h1M116 48h1M124 48h1M127 48h1M176 48h1M180 48h1M197 48h1M201 48h1M223 48h1M227 48h1M232 48h2M246 48h1M251 48h2M255 48h2M271 48h1M315 48h1M317 48h1M322 48h2M325 48h2M346 48h1M364 48h1M376 48h1M380 48h1M383 48h1M388 48h1M498 48h1M29 49h1M31 49h1M69 49h1M127 49h1M206 49h1M225 49h2M228 49h1M232 49h1M235 49h1M257 49h1M271 49h3M275 49h1M281 49h1M283 49h2M318 49h3M348 49h1M351 49h1M365 49h1M367 49h1M371 49h1M380 49h1M382 49h1M385 49h1M428 49h1M36 50h1M70 50h1M73 50h1M125 50h1M127 50h1M213 50h1M215 50h1M225 50h1M250 50h1M253 50h1M270 50h1M343 50h3M361 50h1M366 50h1M369 50h1M372 50h1M384 50h1M388 50h1M31 51h1M152 51h1M228 51h1M232 51h1M253 51h1M271 51h1M273 51h2M281 51h1M290 51h1M317 51h1M320 51h1M327 51h1M362 51h1M369 51h1M372 51h1M374 51h1M387 51h1M398 51h1M405 51h1M14 52h1M29 52h1M33 52h2M70 52h1M73 52h1M128 52h1M181 52h1M188 52h1M195 52h1M216 52h1M246 52h1M255 52h1M283 52h1M327 52h1M348 52h2M360 52h1M363 52h1M371 52h1M407 52h1M482 52h1M494 52h1M27 53h1M33 53h1M54 53h1M76 53h1M80 53h1M109 53h1M113 53h2M178 53h2M184 53h1M224 53h1M226 53h3M231 53h1M245 53h3M275 53h1M284 53h1M295 53h1M312 53h1M347 53h1M363 53h2M367 53h1M372 53h1M392 53h1M433 53h1M497 53h1M74 54h1M81 54h1M84 54h1M120 54h1M125 54h1M181 54h1M183 54h1M186 54h1M191 54h1M196 54h1M215 54h1M227 54h1M231 54h1M233 54h1M247 54h1M250 54h1M256 54h1M274 54h1M277 54h1M293 54h1M322 54h1M370 54h1M378 54h1M386 54h2M432 54h2M459 54h1M5 55h1M35 55h2M71 55h1M116 55h1M131 55h1M177 55h1M221 55h1M229 55h1M231 55h1M273 55h2M314 55h1M320 55h1M323 55h1M325 55h1M363 55h1M365 55h1M380 55h1M387 55h1M389 55h1M414 55h1M426 55h1M470 55h1M482 55h1M487 55h1M500 55h1M15 56h1M20 56h1M32 56h1M72 56h1M120 56h1M125 56h1M128 56h2M179 56h1M192 56h1M232 56h1M245 56h1M248 56h1M252 56h1M256 56h1M318 56h1M320 56h1M327 56h1M347 56h1M349 56h1M352 56h1M366 56h1M369 56h2M383 56h1M386 56h1M400 56h1M405 56h1M416 56h1M483 56h1M502 56h1M31 57h2M38 57h1M69 57h1M179 57h1M227 57h1M248 57h1M251 57h1M276 57h1M324 57h1M356 57h1M358 57h1M367 57h2M381 57h1M453 57h1M476 57h1M478 57h1M495 57h1M32 58h1M34 58h1M69 58h1M71 58h2M88 58h1M94 58h1M97 58h1M118 58h1M125 58h1M191 58h1M208 58h1M222 58h1M227 58h1M233 58h1M249 58h1M272 58h3M280 58h1M306 58h1M311 58h1M350 58h1M356 58h1M358 58h1M363 58h1M380 58h1M388 58h1M435 58h1M18 59h1M95 59h1M130 59h1M177 59h1M179 59h1M183 59h1M231 59h1M250 59h1M278 59h1M315 59h1M320 59h1M325 59h1M350 59h1M356 59h1M358 59h1M362 59h1M381 59h1M385 59h1M429 59h1M17 60h1M35 60h1M37 60h2M69 60h1M71 60h2M112 60h1M226 60h1M272 60h1M293 60h1M317 60h2M327 60h1M355 60h1M358 60h1M374 60h1M394 60h1M411 60h1M422 60h1M432 60h1M472 60h1M495 60h1M498 60h1M502 60h1M27 61h1M126 61h1M197 61h1M234 61h1M271 61h1M311 61h2M320 61h1M360 61h1M367 61h1M373 61h1M377 61h1M380 61h1M391 61h1M396 61h1M10 62h1M31 62h2M40 62h1M70 62h2M76 62h1M121 62h1M130 62h1M175 62h1M271 62h1M275 62h1M283 62h1M318 62h1M320 62h3M376 62h1M398 62h1M438 62h1M489 62h1M66 63h4M117 63h1M175 63h1M182 63h1M229 63h1M278 63h1M296 63h1M299 63h1M313 63h1M322 63h1M363 63h2M368 63h1M374 63h1M397 63h1M417 63h1M450 63h1M35 64h1M38 64h1M40 64h1M66 64h1M72 64h1M108 64h1M131 64h1M134 64h1M227 64h1M234 64h2M271 64h1M274 64h1M280 64h1M302 64h1M308 64h1M323 64h1M331 64h1M360 64h1M372 64h1M379 64h1M390 64h1M393 64h1M429 64h1M494 64h1M28 65h1M36 65h1M64 65h1M66 65h1M127 65h1M129 65h1M132 65h1M175 65h1M214 65h1M224 65h1M231 65h1M271 65h1M273 65h1M276 65h1M290 65h1M323 65h2M366 65h1M376 65h1M464 65h1M470 65h1M488 65h1M490 65h1M26 66h1M64 66h1M125 66h1M128 66h1M172 66h2M209 66h1M222 66h1M230 66h1M234 66h1M236 66h1M312 66h1M322 66h1M328 66h2M370 66h1M373 66h1M378 66h1M383 66h1M30 67h1M39 67h1M42 67h1M62 67h1M67 67h1M118 67h1M127 67h1M169 67h1M175 67h1M215 67h1M218 67h1M228 67h1M233 67h1M267 67h2M329 67h2M371 67h1M378 67h1M388 67h1M391 67h1M408 67h1M453 67h1M473 67h1M27 68h1M40 68h1M58 68h1M62 68h1M71 68h1M105 68h1M129 68h1M137 68h1M179 68h1M219 68h1M222 68h1M226 68h1M230 68h1M272 68h1M312 68h1M318 68h1M328 68h3M334 68h1M367 68h1M374 68h1M380 68h1M433 68h1M468 68h1M34 69h1M41 69h2M56 69h1M62 69h2M110 69h1M131 69h1M136 69h1M175 69h1M180 69h1M215 69h1M226 69h1M231 69h1M235 69h1M237 69h1M268 69h1M271 69h1M276 69h1M362 69h2M365 69h2M380 69h1M389 69h1M452 69h1M466 69h1M28 70h1M31 70h1M48 70h1M54 70h1M118 70h1M120 70h1M135 70h1M174 70h1M220 70h1M235 70h1M272 70h1M326 70h1M331 70h1M367 70h1M373 70h2M430 70h1M434 70h1M42 71h1M47 71h1M53 71h1M61 71h2M136 71h1M138 71h1M142 71h1M164 71h2M168 71h1M172 71h1M175 71h2M203 71h1M231 71h2M240 71h1M265 71h2M269 71h1M272 71h1M282 71h1M294 71h1M310 71h1M318 71h1M327 71h1M368 71h1M374 71h1M380 71h1M386 71h2M405 71h1M410 71h1M425 71h1M447 71h1M489 71h1M48 72h1M53 72h1M55 72h1M140 72h1M142 72h1M170 72h2M180 72h1M185 72h1M201 72h1M217 72h1M225 72h1M232 72h1M236 72h3M242 72h1M263 72h1M267 72h1M271 72h1M316 72h1M318 72h1M321 72h1M325 72h1M365 72h1M367 72h1M372 72h1M387 72h1M45 73h1M68 73h1M99 73h1M129 73h1M137 73h2M160 73h1M189 73h1M235 73h1M261 73h1M266 73h1M308 73h1M317 73h1M326 73h1M334 73h2M366 73h1M380 73h1M404 73h1M16 74h1M21 74h1M55 74h1M62 74h1M66 74h1M76 74h1M84 74h1M97 74h1M139 74h1M151 74h1M153 74h1M158 74h1M223 74h1M228 74h1M241 74h1M250 74h1M262 74h1M310 74h1M356 74h1M365 74h1M368 74h1M384 74h1M386 74h1M413 74h1M439 74h1M447 74h1M453 74h1M494 74h1M496 74h1M4 75h1M45 75h1M50 75h1M71 75h1M114 75h1M138 75h1M158 75h1M162 75h1M192 75h1M195 75h1M228 75h1M235 75h1M239 75h1M242 75h1M244 75h2M253 75h1M262 75h1M266 75h1M343 75h1M351 75h1M361 75h1M366 75h1M373 75h1M376 75h1M391 75h1M37 76h1M84 76h1M119 76h1M124 76h1M141 76h2M147 76h1M151 76h1M165 76h1M239 76h1M250 76h1M253 76h1M260 76h1M263 76h1M321 76h1M323 76h1M336 76h1M360 76h1M370 76h1M375 76h1M387 76h1M412 76h1M425 76h1M455 76h1M476 76h1M87 77h1M92 77h1M97 77h1M110 77h1M121 77h1M139 77h1M150 77h1M152 77h1M154 77h1M228 77h1M237 77h1M243 77h1M249 77h1M252 77h1M256 77h1M259 77h1M323 77h1M329 77h1M332 77h1M335 77h1M338 77h1M341 77h1M348 77h1M352 77h1M356 77h2M363 77h2M368 77h1M370 77h1M372 77h1M374 77h1M420 77h1M456 77h1M502 77h1M133 78h2M137 78h1M140 78h1M143 78h1M150 78h1M164 78h1M170 78h1M183 78h1M193 78h1M216 78h1M232 78h1M238 78h1M244 78h1M250 78h1M260 78h1M267 78h1M274 78h1M294 78h1M332 78h1M346 78h1M351 78h1M357 78h1M369 78h3M376 78h1M480 78h1M4 79h1M46 79h1M82 79h1M137 79h1M153 79h1M159 79h1M165 79h1M167 79h1M173 79h1M177 79h1M186 79h1M235 79h2M240 79h2M248 79h1M251 79h1M256 79h1M270 79h1M327 79h1M342 79h1M372 79h2M375 79h1M377 79h1M423 79h1M459 79h1M45 80h1M56 80h1M133 80h1M251 80h1M255 80h1M258 80h1M334 80h1M338 80h1M358 80h3M386 80h1M420 80h1M450 80h1M477 80h1M492 80h1M499 80h1M29 81h1M60 81h1M129 81h1M169 81h1M177 81h1M179 81h1M242 81h1M249 81h1M263 81h1M336 81h1M345 81h1M349 81h1M356 81h1M362 81h1M364 81h1M366 81h1M397 81h1M424 81h1M478 81h1M480 81h1M21 82h1M43 82h1M57 82h1M123 82h1M133 82h1M135 82h1M165 82h1M178 82h1M231 82h1M239 82h1M243 82h1M245 82h2M254 82h1M260 82h1M276 82h1M338 82h1M348 82h1M352 82h1M361 82h1M365 82h1M368 82h1M383 82h1M385 82h1M410 82h1M416 82h1M428 82h1M452 82h1M472 82h1M488 82h1M498 82h1M46 83h1M68 83h1M78 83h1M84 83h1M154 83h1M191 83h1M348 83h1M360 83h1M367 83h1M404 83h1M414 83h1M476 83h1M489 83h1M492 83h1M4 84h1M30 84h1M142 84h1M145 84h1M158 84h1M171 84h1M173 84h1M227 84h1M249 84h1M258 84h1M328 84h1M339 84h1M362 84h1M369 84h1M421 84h1M435 84h1M51 85h1M56 85h1M100 85h1M174 85h1M242 85h1M245 85h1M290 85h1M305 85h1M323 85h1M343 85h1M350 85h1M361 85h1M437 85h1M487 85h1M502 85h1M102 86h1M128 86h1M145 86h1M148 86h1M155 86h1M163 86h1M166 86h1M229 86h1M243 86h2M252 86h1M260 86h1M307 86h1M335 86h1M353 86h1M356 86h1M381 86h1M388 86h1M426 86h1M28 87h1M60 87h1M201 87h1M225 87h1M315 87h1M331 87h1M361 87h3M369 87h1M376 87h1M435 87h1M24 88h1M74 88h1M83 88h1M170 88h1M214 88h1M237 88h1M261 88h1M268 88h1M288 88h1M294 88h1M333 88h1M350 88h1M362 88h1M366 88h1M422 88h1M426 88h1M463 88h1M471 88h1M487 88h1M76 89h1M120 89h1M132 89h1M166 89h1M195 89h1M197 89h1M228 89h1M276 89h1M292 89h1M312 89h1M345 89h1M354 89h1M360 89h1M414 89h1M431 89h1M467 89h1M50 90h1M66 90h1M76 90h1M146 90h1M255 90h1M324 90h1M352 90h1M359 90h1M363 90h1M374 90h1M408 90h1M459 90h1M131 91h1M135 91h1M144 91h1M201 91h1M262 91h1M332 91h1M348 91h1M419 91h2M451 91h1M473 91h1M490 91h1M14 92h1M22 92h1M138 92h1M144 92h1M195 92h1M275 92h1M321 92h1M324 92h1M352 92h1M387 92h1M468 92h2M471 92h1M478 92h1M34 93h1M56 93h1M69 93h1M169 93h1M201 93h1M208 93h1M226 93h1M231 93h1M274 93h1M333 93h1M338 93h1M377 93h1M429 93h1M147 94h1M152 94h1M245 94h1M253 94h1M280 94h1M308 94h1M317 94h1M349 94h1M380 94h1M385 94h1M475 94h1M496 94h1M503 94h1M7 95h1M24 95h1M144 95h1M152 95h1M154 95h1M161 95h1M164 95h1M227 95h1M243 95h1M259 95h1M277 95h1M339 95h1M347 95h1M451 95h1M494 95h1M21 96h1M45 96h1M53 96h1M138 96h1M201 96h1M277 96h1M353 96h1M377 96h1M410 96h1M412 96h1M487 96h1M497 96h2M12 97h1M43 97h1M165 97h1M167 97h1M225 97h1M227 97h1M252 97h1M308 97h1M349 97h1M437 97h1M461 97h1M475 97h1M35 98h1M131 98h1M165 98h1M240 98h1M305 98h1M313 98h1M415 98h1M425 98h1M450 98h1M50 99h1M67 99h1M113 99h1M115 99h1M120 99h1M155 99h1M157 99h1M210 99h1M268 99h1M340 99h1M453 99h1M484 99h1M59 100h1M122 100h1M124 100h1M192 100h1M208 100h1M276 100h1M375 100h1M436 100h1M449 100h1M465 100h1" stroke="#3a6428"/>
<path d="M110 1h1M197 1h1M408 1h2M420 1h1M434 1h1M498 1h1M75 2h1M88 2h1M102 2h1M173 2h1M294 2h1M339 2h1M343 2h1M6 3h1M108 3h1M234 3h1M270 3h1M282 3h1M373 3h1M412 3h1M53 4h1M124 4h1M145 4h1M320 4h1M328 4h1M464 4h1M71 5h1M103 5h1M154 5h1M230 5h1M258 5h1M485 5h1M13 6h1M85 6h1M420 6h1M449 6h1M459 6h1M475 6h1M482 6h1M60 7h1M64 7h1M77 7h1M134 7h1M164 7h1M187 7h1M224 7h1M339 7h1M368 7h1M407 7h1M414 7h1M416 7h1M438 7h1M440 7h1M445 7h1M482 7h1M34 8h1M57 8h1M109 8h1M185 8h1M430 8h1M41 9h1M87 9h1M119 9h1M146 9h2M180 9h1M347 9h1M404 9h1M478 9h1M491 9h1M104 10h1M127 10h1M149 10h1M244 10h1M294 10h1M299 10h1M320 10h1M362 10h1M448 10h1M495 10h1M497 10h1M102 11h1M154 11h1M168 11h1M241 11h1M362 11h1M399 11h1M416 11h1M464 11h1M489 11h1M133 12h1M159 12h1M168 12h1M281 12h1M307 12h1M373 12h1M375 12h1M8 13h1M41 13h1M123 13h1M136 13h1M141 13h1M160 13h1M179 13h1M212 13h1M287 13h1M354 13h1M356 13h1M359 13h1M421 13h1M437 13h1M157 14h1M177 14h1M196 14h1M264 14h1M350 14h1M367 14h1M369 14h1M374 14h1M426 14h1M446 14h1M81 15h1M162 15h2M228 15h1M233 15h1M331 15h1M352 15h1M357 15h1M458 15h1M492 15h1M21 16h1M166 16h1M176 16h1M225 16h1M289 16h1M306 16h1M352 16h1M376 16h1M390 16h1M91 17h1M129 17h2M156 17h1M189 17h1M222 17h1M267 17h1M269 17h1M279 17h1M297 17h1M322 17h1M333 17h1M342 17h1M360 17h1M411 17h1M451 17h1M63 18h1M122 18h1M154 18h1M157 18h1M168 18h1M170 18h1M337 18h1M341 18h1M372 18h1M382 18h1M390 18h1M430 18h1M149 19h1M214 19h1M218 19h1M226 19h1M252 19h1M255 19h1M296 19h1M325 19h1M339 19h1M354 19h1M361 19h1M503 19h1M86 20h1M148 20h1M156 20h2M289 20h1M307 20h1M331 20h1M359 20h1M414 20h1M420 20h1M432 20h1M53 21h2M113 21h1M144 21h1M214 21h1M261 21h1M278 21h1M313 21h1M343 21h1M346 21h2M366 21h1M387 21h1M400 21h1M411 21h1M25 22h1M76 22h1M133 22h1M165 22h1M334 22h1M351 22h4M365 22h1M412 22h1M492 22h1M10 23h1M23 23h1M145 23h1M176 23h1M217 23h1M238 23h1M304 23h1M311 23h1M338 23h1M344 23h1M363 23h1M370 23h1M385 23h1M479 23h1M53 24h1M133 24h1M144 24h1M184 24h1M214 24h1M248 24h2M347 24h1M372 24h1M375 24h1M384 24h1M454 24h1M474 24h1M493 24h1M42 25h1M68 25h1M136 25h1M140 25h1M165 25h1M173 25h1M175 25h1M227 25h1M323 25h1M331 25h1M338 25h1M349 25h2M352 25h1M365 25h1M382 25h1M418 25h1M466 25h1M45 26h1M100 26h1M161 26h1M174 26h1M183 26h1M346 26h1M348 26h1M358 26h1M428 26h1M430 26h1M494 26h1M497 26h1M28 27h2M50 27h1M153 27h1M181 27h1M209 27h1M235 27h1M358 27h1M363 27h2M375 27h1M448 27h1M488 27h1M497 27h1M28 28h1M31 28h1M128 28h1M145 28h1M148 28h1M153 28h1M159 28h1M169 28h1M216 28h1M245 28h1M253 28h1M258 28h1M316 28h1M355 28h1M365 28h1M386 28h1M4 29h1M31 29h1M123 29h1M129 29h1M145 29h1M149 29h1M155 29h1M157 29h1M160 29h1M175 29h1M191 29h1M204 29h1M236 29h1M253 29h1M267 29h1M269 29h1M323 29h1M347 29h1M351 29h1M364 29h1M396 29h1M426 29h1M15 30h1M70 30h1M85 30h1M123 30h1M148 30h1M151 30h1M154 30h1M168 30h1M225 30h1M246 30h1M249 30h1M255 30h2M273 30h1M295 30h1M364 30h1M368 30h1M375 30h1M412 30h1M496 30h1M118 31h1M147 31h1M150 31h3M155 31h4M160 31h1M233 31h1M244 31h1M258 31h1M292 31h1M330 31h1M345 31h1M388 31h1M62 32h1M141 32h1M153 32h1M155 32h1M158 32h1M162 32h1M248 32h1M259 32h1M266 32h1M294 32h1M297 32h1M315 32h1M319 32h1M341 32h1M349 32h1M358 32h1M362 32h1M365 32h1M374 32h1M464 32h1M468 32h1M31 33h1M61 33h1M142 33h1M145 33h2M156 33h1M159 33h2M163 33h1M168 33h2M172 33h1M180 33h1M239 33h1M249 33h2M254 33h1M269 33h1M288 33h1M322 33h2M330 33h1M332 33h1M338 33h1M349 33h1M352 33h1M355 33h1M359 33h1M364 33h1M375 33h1M410 33h1M422 33h1M479 33h1M33 34h1M57 34h1M89 34h1M106 34h2M110 34h1M137 34h2M141 34h1M154 34h1M156 34h2M164 34h1M171 34h1M193 34h1M224 34h1M232 34h1M236 34h1M242 34h1M249 34h2M258 34h1M267 34h1M302 34h1M327 34h1M334 34h1M338 34h3M346 34h1M348 34h1M351 34h1M362 34h1M374 34h1M376 34h1M387 34h1M422 34h1M482 34h1M122 35h1M128 35h1M138 35h1M140 35h1M142 35h2M147 35h1M155 35h2M164 35h1M170 35h1M173 35h1M183 35h1M198 35h1M204 35h1M231 35h1M243 35h1M245 35h1M250 35h1M252 35h1M272 35h1M281 35h1M325 35h1M329 35h1M338 35h1M341 35h1M344 35h1M353 35h1M371 35h1M378 35h1M400 35h1M423 35h1M429 35h1M468 35h1M491 35h1M39 36h1M43 36h1M67 36h1M82 36h1M125 36h1M128 36h1M132 36h1M137 36h1M140 36h1M145 36h1M162 36h1M242 36h1M248 36h1M252 36h2M262 36h1M268 36h1M310 36h1M317 36h1M334 36h1M345 36h1M359 36h2M36 37h1M41 37h1M53 37h1M55 37h1M139 37h2M142 37h1M150 37h1M154 37h1M162 37h2M166 37h2M169 37h3M175 37h1M240 37h1M250 37h2M253 37h1M272 37h1M280 37h2M313 37h1M322 37h1M324 37h1M333 37h1M336 37h1M338 37h1M352 37h1M359 37h1M361 37h1M365 37h1M369 37h1M385 37h1M415 37h1M441 37h1M453 37h1M469 37h1M27 38h1M32 38h1M45 38h1M52 38h1M55 38h2M63 38h2M70 38h1M115 38h1M123 38h1M132 38h1M135 38h1M138 38h1M147 38h1M158 38h2M161 38h1M167 38h1M229 38h1M236 38h1M240 38h2M243 38h1M250 38h2M258 38h1M315 38h1M329 38h1M337 38h2M342 38h1M356 38h1M358 38h2M44 39h1M51 39h2M56 39h1M58 39h2M67 39h1M122 39h1M136 39h2M140 39h1M148 39h1M158 39h1M161 39h1M164 39h3M181 39h1M207 39h1M220 39h1M240 39h1M248 39h1M255 39h1M257 39h1M265 39h1M269 39h1M305 39h1M311 39h1M340 39h2M349 39h3M353 39h1M358 39h1M375 39h1M382 39h1M412 39h1M495 39h1M22 40h1M43 40h3M50 40h1M54 40h2M58 40h1M131 40h1M135 40h1M141 40h1M153 40h1M166 40h1M169 40h1M171 40h1M175 40h1M178 40h1M181 40h1M203 40h1M246 40h1M248 40h1M251 40h1M254 40h1M256 40h3M260 40h1M264 40h1M266 40h1M313 40h1M328 40h1M334 40h2M337 40h1M339 40h2M343 40h1M354 40h1M358 40h1M372 40h1M416 40h1M490 40h1M46 41h1M48 41h1M57 41h1M63 41h2M132 41h1M134 41h2M139 41h2M143 41h1M151 41h1M162 41h2M166 41h1M171 41h1M179 41h1M183 41h1M228 41h1M231 41h1M239 41h1M243 41h2M250 41h1M255 41h1M260 41h2M333 41h2M340 41h1M345 41h1M368 41h2M386 41h1M436 41h1M484 41h1M8 42h1M45 42h1M47 42h1M50 42h1M56 42h3M63 42h1M67 42h1M96 42h1M123 42h1M128 42h1M134 42h1M157 42h1M171 42h2M190 42h1M200 42h1M242 42h1M244 42h2M251 42h1M263 42h1M322 42h1M325 42h2M333 42h1M337 42h1M341 42h1M384 42h1M389 42h1M426 42h1M40 43h1M45 43h1M52 43h2M65 43h1M67 43h2M71 43h1M75 43h1M92 43h1M131 43h1M133 43h1M142 43h1M149 43h1M157 43h1M168 43h2M172 43h1M176 43h1M179 43h1M229 43h1M232 43h1M234 43h1M236 43h1M244 43h1M246 43h1M248 43h1M250 43h1M253 43h1M255 43h1M264 43h1M268 43h1M278 43h1M337 43h2M340 43h1M346 43h1M365 43h1M407 43h1M430 43h1M32 44h1M45 44h2M49 44h1M52 44h1M57 44h1M61 44h1M63 44h1M72 44h1M125 44h1M137 44h1M145 44h1M147 44h1M149 44h1M157 44h1M169 44h1M173 44h1M175 44h1M243 44h1M249 44h1M260 44h1M262 44h1M299 44h1M325 44h1M330 44h1M332 44h1M335 44h1M340 44h1M369 44h1M374 44h1M382 44h1M390 44h1M431 44h1M494 44h1M11 45h1M40 45h1M46 45h1M49 45h1M52 45h1M55 45h1M62 45h1M66 45h1M69 45h1M74 45h1M85 45h1M88 45h1M97 45h1M99 45h1M120 45h1M128 45h4M138 45h2M143 45h1M145 45h1M153 45h1M156 45h1M175 45h2M209 45h1M232 45h1M234 45h1M236 45h1M255 45h1M257 45h1M265 45h2M279 45h2M310 45h1M322 45h1M341 45h2M358 45h1M374 45h2M392 45h1M16 46h1M42 46h2M50 46h1M63 46h1M68 46h1M132 46h1M136 46h1M167 46h1M171 46h1M179 46h1M181 46h1M194 46h1M197 46h1M203 46h1M212 46h1M236 46h2M242 46h1M253 46h1M255 46h2M263 46h1M266 46h1M268 46h1M330 46h1M338 46h1M340 46h1M347 46h1M351 46h2M359 46h1M366 46h1M368 46h1M463 46h1M474 46h1M23 47h1M41 47h3M57 47h1M59 47h3M66 47h1M76 47h1M121 47h1M126 47h1M133 47h2M136 47h1M140 47h1M160 47h1M167 47h1M171 47h2M182 47h1M205 47h1M240 47h2M258 47h1M261 47h2M266 47h2M295 47h1M315 47h1M320 47h1M337 47h3M352 47h1M428 47h1M446 47h1M496 47h1M38 48h1M42 48h1M65 48h2M80 48h1M83 48h1M119 48h1M131 48h3M152 48h1M164 48h1M170 48h1M172 48h3M177 48h1M208 48h1M221 48h1M224 48h1M236 48h1M238 48h2M242 48h1M249 48h1M265 48h1M272 48h1M276 48h2M284 48h1M328 48h1M338 48h2M344 48h1M362 48h1M367 48h1M369 48h1M372 48h1M374 48h2M389 48h1M405 48h1M448 48h1M35 49h1M40 49h2M47 49h1M49 49h1M55 49h1M64 49h1M73 49h1M117 49h1M134 49h1M138 49h1M149 49h3M155 49h1M168 49h1M174 49h1M176 49h1M178 49h1M182 49h1M227 49h1M238 49h1M240 49h2M244 49h1M256 49h1M258 49h1M261 49h1M265 49h1M268 49h1M287 49h1M307 49h1M336 49h1M338 49h1M349 49h1M377 49h1M397 49h1M431 49h1M443 49h1M497 49h1M18 50h1M40 50h1M46 50h2M59 50h1M61 50h1M65 50h1M67 50h1M122 50h1M128 50h2M139 50h1M151 50h1M153 50h2M158 50h1M173 50h1M178 50h1M231 50h3M246 50h1M249 50h1M255 50h3M265 50h1M269 50h1M271 50h1M314 50h1M325 50h2M330 50h1M334 50h1M365 50h1M367 50h1M375 50h1M409 50h1M441 50h1M452 50h1M38 51h2M52 51h1M57 51h1M67 51h1M120 51h1M128 51h1M135 51h1M151 51h1M163 51h1M172 51h1M227 51h1M245 51h1M247 51h1M254 51h1M258 51h1M261 51h1M264 51h2M268 51h1M270 51h1M277 51h2M314 51h1M323 51h3M329 51h2M334 51h1M337 51h1M340 51h1M342 51h1M344 51h1M347 51h1M358 51h1M373 51h1M385 51h1M421 51h1M35 52h1M39 52h2M45 52h1M47 52h1M55 52h1M63 52h1M75 52h1M84 52h2M118 52h1M130 52h1M138 52h2M143 52h1M147 52h1M149 52h1M159 52h1M165 52h1M167 52h1M169 52h2M172 52h1M179 52h1M191 52h1M219 52h1M230 52h1M240 52h1M242 52h1M257 52h1M261 52h1M322 52h1M332 52h1M335 52h1M338 52h2M344 52h1M346 52h1M377 52h1M384 52h2M32 53h1M40 53h1M43 53h2M56 53h1M61 53h1M97 53h1M127 53h1M144 53h1M155 53h1M158 53h1M174 53h1M177 53h1M181 53h1M192 53h1M233 53h1M240 53h1M243 53h1M257 53h1M264 53h1M280 53h1M316 53h2M326 53h1M329 53h1M331 53h1M333 53h2M339 53h1M343 53h1M345 53h1M349 53h2M361 53h1M365 53h1M371 53h1M379 53h1M490 53h1M1 54h1M33 54h1M38 54h2M43 54h1M47 54h2M52 54h1M58 54h1M62 54h1M146 54h1M150 54h1M152 54h1M158 54h1M170 54h1M193 54h1M235 54h2M239 54h1M244 54h1M248 54h1M257 54h2M266 54h1M268 54h1M292 54h1M314 54h1M334 54h1M336 54h1M338 54h1M340 54h1M344 54h1M346 54h1M362 54h1M365 54h1M372 54h1M398 54h1M25 55h1M33 55h2M46 55h1M50 55h1M63 55h1M67 55h2M129 55h1M133 55h1M135 55h1M139 55h1M167 55h1M173 55h4M179 55h1M232 55h1M234 55h2M241 55h2M258 55h2M262 55h1M266 55h2M270 55h1M318 55h1M324 55h1M329 55h1M337 55h4M342 55h1M349 55h1M361 55h1M370 55h1M374 55h1M19 56h1M24 56h1M41 56h1M44 56h1M52 56h1M56 56h1M85 56h1M119 56h1M138 56h1M164 56h1M172 56h1M177 56h1M180 56h2M183 56h1M228 56h1M235 56h1M239 56h1M242 56h2M249 56h1M258 56h1M267 56h1M269 56h1M271 56h1M316 56h2M321 56h2M328 56h1M331 56h2M335 56h1M339 56h2M345 56h1M350 56h1M356 56h1M358 56h1M484 56h1M35 57h1M45 57h1M49 57h3M66 57h1M75 57h1M112 57h1M132 57h1M137 57h1M161 57h1M164 57h1M171 57h1M173 57h1M177 57h1M184 57h1M188 57h1M230 57h1M243 57h1M255 57h1M257 57h2M263 57h1M265 57h1M268 57h1M271 57h1M273 57h1M327 57h2M331 57h1M333 57h1M336 57h1M338 57h2M343 57h1M345 57h2M348 57h1M363 57h1M369 57h1M377 57h1M448 57h1M457 57h1M485 57h1M487 57h1M35 58h1M44 58h1M47 58h1M53 58h1M55 58h1M58 58h1M61 58h1M63 58h1M66 58h1M132 58h1M135 58h1M171 58h1M235 58h1M239 58h1M241 58h2M244 58h1M247 58h1M251 58h1M253 58h2M256 58h2M265 58h1M268 58h1M324 58h1M332 58h2M335 58h1M340 58h2M345 58h2M355 58h1M357 58h1M366 58h1M369 58h1M373 58h1M375 58h1M378 58h1M384 58h1M415 58h1M469 58h1M477 58h1M30 59h1M38 59h1M40 59h2M44 59h1M54 59h1M56 59h1M61 59h1M63 59h1M65 59h2M68 59h1M108 59h1M110 59h1M128 59h2M131 59h2M134 59h2M137 59h1M146 59h1M156 59h2M160 59h1M168 59h1M171 59h1M180 59h1M186 59h1M237 59h2M254 59h1M256 59h1M264 59h1M266 59h1M312 59h1M318 59h1M332 59h1M335 59h2M338 59h2M341 59h1M343 59h1M345 59h1M349 59h1M355 59h1M365 59h2M395 59h1M411 59h1M36 60h1M41 60h1M52 60h2M56 60h2M59 60h1M66 60h1M68 60h1M116 60h1M124 60h1M128 60h1M134 60h1M154 60h1M158 60h1M165 60h3M179 60h1M233 60h1M240 60h1M242 60h1M248 60h1M250 60h1M254 60h1M259 60h1M264 60h1M266 60h1M336 60h1M339 60h1M342 60h1M346 60h1M349 60h1M353 60h1M360 60h1M368 60h1M370 60h2M373 60h1M375 60h2M429 60h1M436 60h1M441 60h1M458 60h1M479 60h1M481 60h1M30 61h1M40 61h1M42 61h2M47 61h1M49 61h1M54 61h1M60 61h1M63 61h1M74 61h1M127 61h1M137 61h1M147 61h1M151 61h1M161 61h1M177 61h1M239 61h2M248 61h2M257 61h1M267 61h1M276 61h1M284 61h1M333 61h1M337 61h1M339 61h1M341 61h1M343 61h1M345 61h1M352 61h1M359 61h1M440 61h1M41 62h1M43 62h1M48 62h1M53 62h1M61 62h1M64 62h1M74 62h1M80 62h1M104 62h1M133 62h1M136 62h2M141 62h1M145 62h1M152 62h1M156 62h1M162 62h1M166 62h1M176 62h1M218 62h1M234 62h1M242 62h1M246 62h1M251 62h1M253 62h2M268 62h1M289 62h1M307 62h1M326 62h1M330 62h1M336 62h1M338 62h1M342 62h5M350 62h1M353 62h1M355 62h1M357 62h2M380 62h2M410 62h1M475 62h2M32 63h1M39 63h1M43 63h2M57 63h1M60 63h1M63 63h1M71 63h1M74 63h1M121 63h1M128 63h1M137 63h1M139 63h1M142 63h1M146 63h1M149 63h2M155 63h1M159 63h1M162 63h1M165 63h1M172 63h1M232 63h1M234 63h2M237 63h1M253 63h2M260 63h1M269 63h1M272 63h1M327 63h1M330 63h1M333 63h1M335 63h1M339 63h1M344 63h1M349 63h1M351 63h2M357 63h1M359 63h1M366 63h1M369 63h1M371 63h1M375 63h1M377 63h1M388 63h1M440 63h2M9 64h1M11 64h1M43 64h1M48 64h2M52 64h1M63 64h2M67 64h1M87 64h1M124 64h1M132 64h1M135 64h2M138 64h1M146 64h1M148 64h1M163 64h1M166 64h1M194 64h1M242 64h1M245 64h1M247 64h1M255 64h1M258 64h1M265 64h2M268 64h2M275 64h1M282 64h1M289 64h1M327 64h1M333 64h1M335 64h1M341 64h1M351 64h2M354 64h1M364 64h1M367 64h3M375 64h1M381 64h1M454 64h1M488 64h1M39 65h1M44 65h1M48 65h1M54 65h1M58 65h1M62 65h1M123 65h1M128 65h1M130 65h1M134 65h2M142 65h2M145 65h1M155 65h1M159 65h1M166 65h1M170 65h1M176 65h1M242 65h1M252 65h1M255 65h1M265 65h1M327 65h1M333 65h1M335 65h1M338 65h1M343 65h1M345 65h2M349 65h1M351 65h1M356 65h1M360 65h2M20 66h1M46 66h1M51 66h1M58 66h1M60 66h1M62 66h2M67 66h1M69 66h1M118 66h1M120 66h1M138 66h1M141 66h1M152 66h1M156 66h1M166 66h1M168 66h1M171 66h1M183 66h1M240 66h3M248 66h2M255 66h1M258 66h1M260 66h1M266 66h1M268 66h1M270 66h1M280 66h1M283 66h1M297 66h1M318 66h1M320 66h2M330 66h2M341 66h1M346 66h1M352 66h3M356 66h1M359 66h1M362 66h2M365 66h1M368 66h2M371 66h1M374 66h2M385 66h2M391 66h1M416 66h1M28 67h1M44 67h1M48 67h1M52 67h2M56 67h1M87 67h1M134 67h1M139 67h1M141 67h1M145 67h1M150 67h1M155 67h1M160 67h1M163 67h1M168 67h1M170 67h1M179 67h1M182 67h1M188 67h1M204 67h1M229 67h1M235 67h1M237 67h1M241 67h1M244 67h1M248 67h2M251 67h1M255 67h1M257 67h1M326 67h1M337 67h4M350 67h1M352 67h1M357 67h1M360 67h1M370 67h1M375 67h1M383 67h1M393 67h1M28 68h1M32 68h1M48 68h1M51 68h1M53 68h1M59 68h1M86 68h1M136 68h1M141 68h4M146 68h2M151 68h1M153 68h2M160 68h2M168 68h1M170 68h2M180 68h1M233 68h1M236 68h1M238 68h2M241 68h3M248 68h1M251 68h1M256 68h1M262 68h1M269 68h1M273 68h1M277 68h1M326 68h1M331 68h1M333 68h1M335 68h1M338 68h1M341 68h1M346 68h1M349 68h2M354 68h1M356 68h1M358 68h1M361 68h2M412 68h1M436 68h1M46 69h1M49 69h1M51 69h2M58 69h1M64 69h1M80 69h1M138 69h1M141 69h1M148 69h1M150 69h1M155 69h1M159 69h5M165 69h1M216 69h1M224 69h1M229 69h1M234 69h1M243 69h2M253 69h1M255 69h1M259 69h2M270 69h1M306 69h1M324 69h1M329 69h1M334 69h1M338 69h1M350 69h2M353 69h2M356 69h2M360 69h1M369 69h1M50 70h1M52 70h1M55 70h1M83 70h1M100 70h1M138 70h1M140 70h1M142 70h1M144 70h1M149 70h1M154 70h2M159 70h1M165 70h1M223 70h1M233 70h1M240 70h1M243 70h1M249 70h1M251 70h3M256 70h1M260 70h1M263 70h1M280 70h1M311 70h1M317 70h1M323 70h1M328 70h1M334 70h1M336 70h1M339 70h1M342 70h2M345 70h1M349 70h2M356 70h1M360 70h1M362 70h1M371 70h1M385 70h1M428 70h1M440 70h1M58 71h1M72 71h1M146 71h1M152 71h1M158 71h1M160 71h1M167 71h1M185 71h1M239 71h1M242 71h2M249 71h1M263 71h1M276 71h1M299 71h1M326 71h1M333 71h1M343 71h1M348 71h1M350 71h1M358 71h1M372 71h1M429 71h1M484 71h1M64 72h1M67 72h1M79 72h2M84 72h1M139 72h1M152 72h1M154 72h1M156 72h2M160 72h2M169 72h1M230 72h1M246 72h2M250 72h1M255 72h2M258 72h1M260 72h1M274 72h1M308 72h1M337 72h1M345 72h1M348 72h1M350 72h4M361 72h2M373 72h1M381 72h2M422 72h1M448 72h1M490 72h1M43 73h1M57 73h1M139 73h2M147 73h1M149 73h1M151 73h2M156 73h2M161 73h2M195 73h1M217 73h1M246 73h2M249 73h1M252 73h2M255 73h1M260 73h1M265 73h1M267 73h1M305 73h1M336 73h1M351 73h1M354 73h2M361 73h3M411 73h1M426 73h1M454 73h1M456 73h1M492 73h1M22 74h1M45 74h1M68 74h1M100 74h1M142 74h1M145 74h1M150 74h1M165 74h1M199 74h1M236 74h1M248 74h1M253 74h1M333 74h1M335 74h1M343 74h1M346 74h1M350 74h1M355 74h1M362 74h1M382 74h1M388 74h1M469 74h1M137 75h1M149 75h1M152 75h1M157 75h1M159 75h1M229 75h1M236 75h1M243 75h1M249 75h1M252 75h1M258 75h1M268 75h1M327 75h1M330 75h1M339 75h1M344 75h1M346 75h1M353 75h1M355 75h1M362 75h1M364 75h1M368 75h1M371 75h1M433 75h1M47 76h1M113 76h1M144 76h1M154 76h3M241 76h1M294 76h1M333 76h1M347 76h1M351 76h1M353 76h2M356 76h1M368 76h1M434 76h1M461 76h1M491 76h1M112 77h1M138 77h1M257 77h1M265 77h1M296 77h1M322 77h1M330 77h1M342 77h1M346 77h2M360 77h1M376 77h1M438 77h1M499 77h1M6 78h1M43 78h1M66 78h1M120 78h1M135 78h1M144 78h1M159 78h1M166 78h1M209 78h1M248 78h1M265 78h1M273 78h1M310 78h1M317 78h1M328 78h1M348 78h1M353 78h1M367 78h1M432 78h1M463 78h1M16 79h1M63 79h1M100 79h1M112 79h1M118 79h1M155 79h1M163 79h1M171 79h1M252 79h2M257 79h1M328 79h1M347 79h1M356 79h1M361 79h1M430 79h1M493 79h1M109 80h1M154 80h1M161 80h1M172 80h1M223 80h1M252 80h1M315 80h1M329 80h1M345 80h1M347 80h1M351 80h1M365 80h1M370 80h1M378 80h1M480 80h1M498 80h1M55 81h1M145 81h1M148 81h1M165 81h1M252 81h1M312 81h1M316 81h1M344 81h1M347 81h1M354 81h1M360 81h1M363 81h1M368 81h1M370 81h1M373 81h1M390 81h1M394 81h1M468 81h1M486 81h1M45 82h1M235 82h1M329 82h1M346 82h1M349 82h1M351 82h1M353 82h3M374 82h1M384 82h1M494 82h1M56 83h1M203 83h1M252 83h1M272 83h1M313 83h1M352 83h1M362 83h1M43 84h1M52 84h1M123 84h1M178 84h1M201 84h1M232 84h1M235 84h1M239 84h1M334 84h1M356 84h1M365 84h1M372 84h1M465 84h1M24 85h1M38 85h1M139 85h1M152 85h1M181 85h1M260 85h1M320 85h2M329 85h2M335 85h1M341 85h1M345 85h1M349 85h1M352 85h1M354 85h1M426 85h2M457 85h1M459 85h1M482 85h1M59 86h1M144 86h1M165 86h1M300 86h1M342 86h1M351 86h1M363 86h1M485 86h1M489 86h1M37 87h1M72 87h1M140 87h1M142 87h1M170 87h1M212 87h1M275 87h2M285 87h1M292 87h1M316 87h2M341 87h1M349 87h1M417 87h1M436 87h1M54 88h1M72 88h1M155 88h2M167 88h1M194 88h1M223 88h1M250 88h1M256 88h1M356 88h1M358 88h1M361 88h1M364 88h1M369 88h1M433 88h1M473 88h1M19 89h1M50 89h1M71 89h1M138 89h1M231 89h1M247 89h1M271 89h1M320 89h1M344 89h1M427 89h1M450 89h1M458 89h1M497 89h1M26 90h1M294 90h1M366 90h1M480 90h1M24 91h1M98 91h1M156 91h1M335 91h1M352 91h1M356 91h1M361 91h1M437 91h1M450 91h1M499 91h1M85 92h1M147 92h1M237 92h1M250 92h1M274 92h1M338 92h1M349 92h1M419 92h2M453 92h1M70 93h1M127 93h1M177 93h1M205 93h1M228 93h1M305 93h1M348 93h1M486 93h1M71 94h1M165 94h1M172 94h1M262 94h1M265 94h1M361 94h1M364 94h1M369 94h1M470 94h1M485 94h1M498 94h1M335 95h1M373 95h1M404 95h1M436 95h1M471 95h1M4 96h1M77 96h1M122 96h1M172 96h1M181 96h1M205 96h1M473 96h1M477 96h2M30 97h1M184 97h1M233 97h1M265 97h1M331 97h1M493 97h1M29 98h1M39 98h1M122 98h1M170 98h1M177 98h1M189 98h1M335 98h1M356 98h1M412 98h1M42 99h1M151 99h1M208 99h1M392 99h1M444 99h1M454 99h1M96 100h1M133 100h1M248 100h1M283 100h1M396 100h1M421 100h1M425 100h1M431 100h1M491 100h1M494 100h1" stroke="#4e8236"/>
<path d="M109 1h1M127 1h1M134 1h1M254 1h1M373 1h1M384 1h1M416 1h1M460 1h1M140 2h1M163 2h1M227 2h1M241 2h1M366 2h1M451 2h1M503 2h1M10 3h1M272 3h1M288 3h1M294 3h1M414 3h1M38 4h1M201 4h1M377 4h1M407 4h1M474 4h1M483 4h1M240 5h1M371 5h1M432 5h1M443 5h1M76 6h1M148 6h1M249 6h1M325 6h1M350 6h1M361 6h3M390 6h1M132 7h1M138 7h1M165 7h1M295 7h1M374 7h1M404 7h1M431 7h1M64 8h1M165 8h1M209 8h1M309 8h1M344 8h1M412 8h1M414 8h1M440 8h1M22 9h1M66 9h1M72 9h1M78 9h1M102 9h1M350 9h1M359 9h1M16 10h1M39 10h1M111 10h1M141 10h1M194 10h1M250 10h1M349 10h1M134 11h1M207 11h1M222 11h1M342 11h1M378 11h1M395 11h1M500 11h1M17 12h1M122 12h1M132 12h1M156 12h1M235 12h1M278 12h1M421 12h1M445 12h1M478 12h2M116 13h1M165 13h1M170 13h1M257 13h1M259 13h1M309 13h1M312 13h1M341 13h1M474 13h1M49 14h1M136 14h1M146 14h1M159 14h1M182 14h1M221 14h1M299 14h1M327 14h1M340 14h1M342 14h1M361 14h1M368 14h1M383 14h1M430 14h1M441 14h1M53 15h2M135 15h1M142 15h1M148 15h1M154 15h1M240 15h1M271 15h1M333 15h1M363 15h1M382 15h1M412 15h1M419 15h1M456 15h1M468 15h1M503 15h1M161 16h1M360 16h1M473 16h1M53 17h1M137 17h1M151 17h1M220 17h1M247 17h1M315 17h1M338 17h1M351 17h1M354 17h1M367 17h1M376 17h1M410 17h1M487 17h1M49 18h1M65 18h1M88 18h1M249 18h1M296 18h1M324 18h1M333 18h1M346 18h1M366 18h1M378 18h1M458 18h1M58 19h1M61 19h1M260 19h1M270 19h1M372 19h1M46 20h1M91 20h1M139 20h1M269 20h1M41 21h1M143 21h1M242 21h1M290 21h1M325 21h1M339 21h1M344 21h1M382 21h1M435 21h1M450 21h1M472 21h1M497 21h1M62 22h1M176 22h1M253 22h1M319 22h1M328 22h1M402 22h1M449 22h1M451 22h1M474 22h1M493 22h1M146 23h1M198 23h1M264 23h1M270 23h1M323 23h1M349 23h1M354 23h1M139 24h1M152 24h1M160 24h1M178 24h1M198 24h1M271 24h1M281 24h1M330 24h1M332 24h2M349 24h1M351 24h1M412 24h1M72 25h1M155 25h1M159 25h1M164 25h1M169 25h1M223 25h1M260 25h1M317 25h1M358 25h1M368 25h1M497 25h1M126 26h1M136 26h1M141 26h1M149 26h1M153 26h1M320 26h1M349 26h1M415 26h1M445 26h1M458 26h1M479 26h1M9 27h1M148 27h1M174 27h1M188 27h1M249 27h1M287 27h1M320 27h1M339 27h1M353 27h1M388 27h1M418 27h1M55 28h1M142 28h1M156 28h1M267 28h1M280 28h1M364 28h1M369 28h1M389 28h2M462 28h1M37 29h1M59 29h1M156 29h1M158 29h1M161 29h1M322 29h1M325 29h1M330 29h1M340 29h2M344 29h1M352 29h1M362 29h1M385 29h1M407 29h1M454 29h2M500 29h1M31 30h1M43 30h1M75 30h1M142 30h1M152 30h1M155 30h1M159 30h1M161 30h1M164 30h1M261 30h1M265 30h1M338 30h1M351 30h1M362 30h1M460 30h1M467 30h1M474 30h1M482 30h1M491 30h1M36 31h1M108 31h2M141 31h1M153 31h1M163 31h2M252 31h1M277 31h1M301 31h1M329 31h1M335 31h1M356 31h1M362 31h1M382 31h1M1 32h1M30 32h1M53 32h1M63 32h1M125 32h1M142 32h3M151 32h1M154 32h1M159 32h1M161 32h1M220 32h1M246 32h1M272 32h1M310 32h1M337 32h1M348 32h1M367 32h1M381 32h1M413 32h1M419 32h1M423 32h1M458 32h1M46 33h1M76 33h1M135 33h1M149 33h2M152 33h1M155 33h1M158 33h1M171 33h1M222 33h1M226 33h1M246 33h1M258 33h1M263 33h1M327 33h1M339 33h1M348 33h1M363 33h1M406 33h1M420 33h1M18 34h1M59 34h1M139 34h1M152 34h2M159 34h1M165 34h1M173 34h1M181 34h1M188 34h1M251 34h1M324 34h1M343 34h1M360 34h1M366 34h1M375 34h1M401 34h1M454 34h1M485 34h1M493 34h1M127 35h1M134 35h1M136 35h1M148 35h5M158 35h1M163 35h1M166 35h1M175 35h1M179 35h1M237 35h1M321 35h1M328 35h1M334 35h1M346 35h1M350 35h1M354 35h1M370 35h1M415 35h1M430 35h1M443 35h1M453 35h1M484 35h1M35 36h1M44 36h1M51 36h1M53 36h1M60 36h1M91 36h1M110 36h1M141 36h1M143 36h2M148 36h1M153 36h3M157 36h1M159 36h1M163 36h1M167 36h2M172 36h1M183 36h1M224 36h1M231 36h1M240 36h1M269 36h1M331 36h1M356 36h1M363 36h1M383 36h1M54 37h1M62 37h1M84 37h1M134 37h2M138 37h1M145 37h2M155 37h2M161 37h1M168 37h1M199 37h1M217 37h1M247 37h1M257 37h2M261 37h1M305 37h1M320 37h1M345 37h1M350 37h1M357 37h1M50 38h1M129 38h1M137 38h1M139 38h1M146 38h1M150 38h1M166 38h1M181 38h1M183 38h1M200 38h1M239 38h1M246 38h1M249 38h1M259 38h1M306 38h1M328 38h1M344 38h1M352 38h1M417 38h1M426 38h1M479 38h1M484 38h1M49 39h1M55 39h1M85 39h1M138 39h1M141 39h1M143 39h1M151 39h2M155 39h2M162 39h1M186 39h1M193 39h1M238 39h1M241 39h1M250 39h2M258 39h1M260 39h1M309 39h1M331 39h1M342 39h1M355 39h1M357 39h1M363 39h1M370 39h1M48 40h2M51 40h1M60 40h1M63 40h1M110 40h1M136 40h1M139 40h1M144 40h1M156 40h1M159 40h1M165 40h1M167 40h1M226 40h1M231 40h1M240 40h1M261 40h1M267 40h1M281 40h1M291 40h1M317 40h2M327 40h1M348 40h1M363 40h2M377 40h1M384 40h1M481 40h1M42 41h3M47 41h1M50 41h1M52 41h1M54 41h1M58 41h1M62 41h1M136 41h1M138 41h1M142 41h1M147 41h1M153 41h4M159 41h1M161 41h1M169 41h1M209 41h1M211 41h1M233 41h1M237 41h1M241 41h2M245 41h1M253 41h1M256 41h1M263 41h1M265 41h1M271 41h1M283 41h1M290 41h1M316 41h1M331 41h1M339 41h1M371 41h1M377 41h1M381 41h1M389 41h1M1 42h1M28 42h1M48 42h1M59 42h2M64 42h1M138 42h2M149 42h1M151 42h2M154 42h1M156 42h1M160 42h2M163 42h1M174 42h1M216 42h1M236 42h1M240 42h1M243 42h1M247 42h1M250 42h1M259 42h1M264 42h1M275 42h1M335 42h1M355 42h1M362 42h1M372 42h1M382 42h1M416 42h1M6 43h1M41 43h1M43 43h2M47 43h3M56 43h1M58 43h2M64 43h1M79 43h1M135 43h2M144 43h1M146 43h1M151 43h1M161 43h2M165 43h3M201 43h1M218 43h1M240 43h1M242 43h1M247 43h1M259 43h1M262 43h1M267 43h1M331 43h3M335 43h1M344 43h1M371 43h1M375 43h1M390 43h1M472 43h1M39 44h1M53 44h1M59 44h2M62 44h1M64 44h1M126 44h1M138 44h1M144 44h1M148 44h1M150 44h1M153 44h4M158 44h1M162 44h1M165 44h1M167 44h2M171 44h1M223 44h1M230 44h1M242 44h1M244 44h1M252 44h2M257 44h2M316 44h1M319 44h1M327 44h1M360 44h1M362 44h1M401 44h1M422 44h1M26 45h1M33 45h1M41 45h1M43 45h2M50 45h1M54 45h1M57 45h1M60 45h1M65 45h1M140 45h1M147 45h1M149 45h1M157 45h1M159 45h2M167 45h1M170 45h1M195 45h1M238 45h1M242 45h1M244 45h1M248 45h1M252 45h1M254 45h1M264 45h1M317 45h1M321 45h1M328 45h2M331 45h1M334 45h3M338 45h1M348 45h2M387 45h1M397 45h1M473 45h1M12 46h1M35 46h1M38 46h2M45 46h1M51 46h1M53 46h1M55 46h1M60 46h1M128 46h1M131 46h1M133 46h1M135 46h1M139 46h1M141 46h1M144 46h2M149 46h2M152 46h2M155 46h3M160 46h2M165 46h2M172 46h1M176 46h1M226 46h1M246 46h1M260 46h1M264 46h2M269 46h1M271 46h1M302 46h1M328 46h1M334 46h2M364 46h1M369 46h1M394 46h1M432 46h1M12 47h1M35 47h2M45 47h1M47 47h1M54 47h3M58 47h1M62 47h1M74 47h1M77 47h1M84 47h1M118 47h1M138 47h1M142 47h1M147 47h1M150 47h1M152 47h3M156 47h1M158 47h2M163 47h4M168 47h1M226 47h1M232 47h1M237 47h1M239 47h1M244 47h2M249 47h1M254 47h1M256 47h2M271 47h2M279 47h1M292 47h1M329 47h1M331 47h2M341 47h2M350 47h1M358 47h1M369 47h1M371 47h1M375 47h2M391 47h1M5 48h1M37 48h1M41 48h1M46 48h1M54 48h1M59 48h1M62 48h2M74 48h1M122 48h1M134 48h2M141 48h1M147 48h1M151 48h1M155 48h4M163 48h1M166 48h1M169 48h1M171 48h1M175 48h1M228 48h1M237 48h1M240 48h1M245 48h1M248 48h1M263 48h1M267 48h3M324 48h1M335 48h1M343 48h1M30 49h1M39 49h1M45 49h2M50 49h1M53 49h1M59 49h2M65 49h1M67 49h1M75 49h1M100 49h1M119 49h1M121 49h1M125 49h1M132 49h2M139 49h1M141 49h1M148 49h1M152 49h2M157 49h4M163 49h5M169 49h2M177 49h1M180 49h1M224 49h1M229 49h1M233 49h1M239 49h1M243 49h1M248 49h1M259 49h1M266 49h1M295 49h1M329 49h1M335 49h1M337 49h1M340 49h1M345 49h1M378 49h1M487 49h1M492 49h1M22 50h1M27 50h1M43 50h1M45 50h1M48 50h2M64 50h1M66 50h1M75 50h1M92 50h1M130 50h1M135 50h3M140 50h2M147 50h1M149 50h1M157 50h1M159 50h1M167 50h3M179 50h1M224 50h1M243 50h2M261 50h1M264 50h1M276 50h1M311 50h1M323 50h1M329 50h1M335 50h1M338 50h1M341 50h1M374 50h1M43 51h1M45 51h1M47 51h1M49 51h1M55 51h2M58 51h1M60 51h1M62 51h1M65 51h1M78 51h1M92 51h1M134 51h1M139 51h1M142 51h2M145 51h1M148 51h1M156 51h1M167 51h1M170 51h1M176 51h2M239 51h2M260 51h1M322 51h1M331 51h2M335 51h1M338 51h1M353 51h1M365 51h1M367 51h2M412 51h1M453 51h1M26 52h1M50 52h2M60 52h1M66 52h1M72 52h1M133 52h1M135 52h3M140 52h1M144 52h1M148 52h1M150 52h1M153 52h1M156 52h1M160 52h1M162 52h3M227 52h1M235 52h1M239 52h1M241 52h1M254 52h1M262 52h1M265 52h1M267 52h2M325 52h1M329 52h1M333 52h1M341 52h3M370 52h1M372 52h1M389 52h1M16 53h1M25 53h1M39 53h1M52 53h1M63 53h1M65 53h1M124 53h1M132 53h1M135 53h1M140 53h1M142 53h1M145 53h1M149 53h1M161 53h1M163 53h3M169 53h4M175 53h1M214 53h1M239 53h1M241 53h1M250 53h1M258 53h3M263 53h1M265 53h1M267 53h1M346 53h1M378 53h1M420 53h1M41 54h1M45 54h1M50 54h1M56 54h1M66 54h1M69 54h1M88 54h1M100 54h1M133 54h1M136 54h1M139 54h1M142 54h1M144 54h2M147 54h3M151 54h1M155 54h1M157 54h1M160 54h1M172 54h1M238 54h1M240 54h2M243 54h1M255 54h1M259 54h2M264 54h1M269 54h2M278 54h1M323 54h2M332 54h2M343 54h1M353 54h1M359 54h2M371 54h1M442 54h2M38 55h1M41 55h1M47 55h3M55 55h1M62 55h1M65 55h1M77 55h1M127 55h1M134 55h1M136 55h1M140 55h2M145 55h1M147 55h1M149 55h1M153 55h3M157 55h1M160 55h2M164 55h1M182 55h1M222 55h1M238 55h1M265 55h1M371 55h1M386 55h1M421 55h1M16 56h1M22 56h1M31 56h1M40 56h1M47 56h1M54 56h2M58 56h1M61 56h1M63 56h2M73 56h1M126 56h1M131 56h1M135 56h1M142 56h1M154 56h1M156 56h1M158 56h2M161 56h1M165 56h1M167 56h2M175 56h1M199 56h1M229 56h2M260 56h1M273 56h1M323 56h1M330 56h1M364 56h1M368 56h1M375 56h1M401 56h1M460 56h1M486 56h1M42 57h1M44 57h1M47 57h1M52 57h2M55 57h1M59 57h1M62 57h2M68 57h1M76 57h1M130 57h1M135 57h1M143 57h1M145 57h1M147 57h1M151 57h1M153 57h2M159 57h1M165 57h4M170 57h1M236 57h1M238 57h2M262 57h1M275 57h1M277 57h1M329 57h1M342 57h1M347 57h1M360 57h1M371 57h1M376 57h1M385 57h1M426 57h1M481 57h1M9 58h1M36 58h1M49 58h2M52 58h1M54 58h1M56 58h1M59 58h2M62 58h1M64 58h1M67 58h1M122 58h1M139 58h2M144 58h2M147 58h2M150 58h1M152 58h1M154 58h1M156 58h2M160 58h1M164 58h1M170 58h1M172 58h1M177 58h1M183 58h1M230 58h1M236 58h1M260 58h1M262 58h2M314 58h1M326 58h1M330 58h2M343 58h1M352 58h1M377 58h1M487 58h1M39 59h1M48 59h1M55 59h1M62 59h1M64 59h1M71 59h1M148 59h2M154 59h1M158 59h2M164 59h1M167 59h1M227 59h1M241 59h1M243 59h2M252 59h1M261 59h1M265 59h1M269 59h2M326 59h1M346 59h1M348 59h1M367 59h1M370 59h1M373 59h1M379 59h1M419 59h1M39 60h1M43 60h1M48 60h2M54 60h1M60 60h1M62 60h1M64 60h1M70 60h1M127 60h1M133 60h1M135 60h1M138 60h1M142 60h1M145 60h3M150 60h1M156 60h2M159 60h1M169 60h1M172 60h1M220 60h1M223 60h1M229 60h1M234 60h1M236 60h2M243 60h3M252 60h1M263 60h1M271 60h1M276 60h1M284 60h1M298 60h1M337 60h1M347 60h1M352 60h1M354 60h1M363 60h1M367 60h1M410 60h1M449 60h1M44 61h3M50 61h1M52 61h1M56 61h1M61 61h1M65 61h1M120 61h1M132 61h1M135 61h2M138 61h2M142 61h1M145 61h1M148 61h3M152 61h1M155 61h1M159 61h1M164 61h1M166 61h1M174 61h1M176 61h1M230 61h1M235 61h1M237 61h2M241 61h1M243 61h2M246 61h2M259 61h2M270 61h1M277 61h1M323 61h1M331 61h1M335 61h2M340 61h1M344 61h1M347 61h1M354 61h1M382 61h1M482 61h1M492 61h1M5 62h1M18 62h1M39 62h1M44 62h2M49 62h1M51 62h1M56 62h1M59 62h2M120 62h1M124 62h1M132 62h1M134 62h1M139 62h1M143 62h1M146 62h2M151 62h1M153 62h1M159 62h1M161 62h1M168 62h1M171 62h1M173 62h1M178 62h1M193 62h1M230 62h1M233 62h1M237 62h1M241 62h1M245 62h1M250 62h1M252 62h1M255 62h1M257 62h2M267 62h1M294 62h1M337 62h1M341 62h1M362 62h1M364 62h1M366 62h1M390 62h1M414 62h1M419 62h1M48 63h2M51 63h1M58 63h1M61 63h1M64 63h1M86 63h1M114 63h1M129 63h1M131 63h1M136 63h1M144 63h1M148 63h1M151 63h1M156 63h2M169 63h2M193 63h1M230 63h1M238 63h1M247 63h1M249 63h1M252 63h1M258 63h1M261 63h1M263 63h1M265 63h1M300 63h1M314 63h1M319 63h1M332 63h1M341 63h1M365 63h1M382 63h1M391 63h1M423 63h1M473 63h1M14 64h1M39 64h1M46 64h1M57 64h1M62 64h1M95 64h1M140 64h2M143 64h1M145 64h1M151 64h3M155 64h1M160 64h1M181 64h2M226 64h1M252 64h1M259 64h1M263 64h2M316 64h1M321 64h1M329 64h2M338 64h1M343 64h1M347 64h1M355 64h2M358 64h1M371 64h1M376 64h1M436 64h1M17 65h1M40 65h1M45 65h1M52 65h2M61 65h1M120 65h1M147 65h2M156 65h1M158 65h1M161 65h1M163 65h1M168 65h2M183 65h1M240 65h1M244 65h2M247 65h3M251 65h1M253 65h2M258 65h3M262 65h1M269 65h1M272 65h1M274 65h1M322 65h1M329 65h1M331 65h1M336 65h1M342 65h1M347 65h2M353 65h1M357 65h1M364 65h2M368 65h2M380 65h1M424 65h1M426 65h1M33 66h1M49 66h1M54 66h1M57 66h1M59 66h1M71 66h1M103 66h1M106 66h1M115 66h1M119 66h1M140 66h1M142 66h2M148 66h1M153 66h3M163 66h2M232 66h1M239 66h1M244 66h1M250 66h2M262 66h2M335 66h1M337 66h1M339 66h1M342 66h2M361 66h1M377 66h1M465 66h1M477 66h1M501 66h1M24 67h1M37 67h1M45 67h1M63 67h1M119 67h2M142 67h1M144 67h1M156 67h1M166 67h1M172 67h1M230 67h1M236 67h1M239 67h1M242 67h1M245 67h1M250 67h1M253 67h1M256 67h1M259 67h1M269 67h1M277 67h2M287 67h1M313 67h1M343 67h1M346 67h1M348 67h2M351 67h1M355 67h1M358 67h1M366 67h1M457 67h1M492 67h1M55 68h1M68 68h1M84 68h1M123 68h1M131 68h1M135 68h1M152 68h1M165 68h2M247 68h1M249 68h1M254 68h2M257 68h1M259 68h1M264 68h1M270 68h2M275 68h1M278 68h1M319 68h1M322 68h1M339 68h1M351 68h1M364 68h1M366 68h1M416 68h1M444 68h1M455 68h1M458 68h1M487 68h2M45 69h1M48 69h1M61 69h1M88 69h1M135 69h1M156 69h1M167 69h1M169 69h2M247 69h2M252 69h1M258 69h1M277 69h1M346 69h1M371 69h1M385 69h1M497 69h1M62 70h1M74 70h1M105 70h1M158 70h1M162 70h1M175 70h1M179 70h1M182 70h1M262 70h1M266 70h1M286 70h1M332 70h1M337 70h1M341 70h1M352 70h1M355 70h1M357 70h3M368 70h3M416 70h1M431 70h1M471 70h1M482 70h1M44 71h1M48 71h1M52 71h1M56 71h1M119 71h1M121 71h1M156 71h1M162 71h1M170 71h1M187 71h1M221 71h1M226 71h2M248 71h1M260 71h1M262 71h1M319 71h1M321 71h1M337 71h1M352 71h1M355 71h1M370 71h2M422 71h1M1 72h1M38 72h1M96 72h1M130 72h1M143 72h1M159 72h1M164 72h1M176 72h1M181 72h1M233 72h1M244 72h1M322 72h1M335 72h1M343 72h2M347 72h1M349 72h1M363 72h2M491 72h1M11 73h1M59 73h1M64 73h1M82 73h1M142 73h1M146 73h1M150 73h1M158 73h1M163 73h1M173 73h1M230 73h1M250 73h1M316 73h1M325 73h1M338 73h1M348 73h3M364 73h1M434 73h1M107 74h1M129 74h1M134 74h1M140 74h1M230 74h2M239 74h1M247 74h1M251 74h1M338 74h1M340 74h1M344 74h1M348 74h2M395 74h1M409 74h1M414 74h1M43 75h1M63 75h1M115 75h1M141 75h1M143 75h1M173 75h1M187 75h1M230 75h1M318 75h1M335 75h2M348 75h1M359 75h1M367 75h1M387 75h1M413 75h1M418 75h1M444 75h1M41 76h1M92 76h1M110 76h1M145 76h1M153 76h1M248 76h1M254 76h1M264 76h1M342 76h1M367 76h1M380 76h1M458 76h1M467 76h1M487 76h1M94 77h1M147 77h1M214 77h1M239 77h1M247 77h1M253 77h1M261 77h1M270 77h1M327 77h1M339 77h1M487 77h1M31 78h1M64 78h1M72 78h1M82 78h1M215 78h1M333 78h1M344 78h1M355 78h1M411 78h1M78 79h1M157 79h1M166 79h1M172 79h1M212 79h1M268 79h1M301 79h1M317 79h1M350 79h3M354 79h1M357 79h1M376 79h1M378 79h1M480 79h1M134 80h1M171 80h1M268 80h1M278 80h1M321 80h1M352 80h1M354 80h1M361 80h1M374 80h1M434 80h1M466 80h1M73 81h1M87 81h1M117 81h1M223 81h1M228 81h1M274 81h1M323 81h1M358 81h1M372 81h1M405 81h1M498 81h1M67 82h1M69 82h1M151 82h1M171 82h1M184 82h1M251 82h1M267 82h1M331 82h1M344 82h1M350 82h1M359 82h1M362 82h1M369 82h1M435 82h1M495 82h1M48 83h1M125 83h1M163 83h1M172 83h1M205 83h1M255 83h1M297 83h1M327 83h1M346 83h1M371 83h1M377 83h1M456 83h1M48 84h1M61 84h1M82 84h1M130 84h1M152 84h1M168 84h1M172 84h1M185 84h1M267 84h1M312 84h1M335 84h1M345 84h1M371 84h1M378 84h2M426 84h1M61 85h1M93 85h1M254 85h1M269 85h1M340 85h1M344 85h1M358 85h1M368 85h1M373 85h1M471 85h1M56 86h1M73 86h1M157 86h1M263 86h1M331 86h1M382 86h1M392 86h1M432 86h1M53 87h1M82 87h1M108 87h1M131 87h1M133 87h1M167 87h1M184 87h2M236 87h1M241 87h1M267 87h1M313 87h2M332 87h1M339 87h1M348 87h1M366 87h1M471 87h1M189 88h1M247 88h1M305 88h1M407 88h1M425 88h1M436 88h1M444 88h1M90 89h1M96 89h1M130 89h1M158 89h1M165 89h1M214 89h1M278 89h1M295 89h1M329 89h1M398 89h1M498 89h1M502 89h1M9 90h1M39 90h1M133 90h1M164 90h1M242 90h1M299 90h1M311 90h1M329 90h1M377 90h1M12 91h1M45 91h1M168 91h1M375 91h1M414 91h1M444 91h1M460 91h1M56 92h1M163 92h1M216 92h1M251 92h1M315 92h1M372 92h1M396 92h1M438 92h1M477 92h1M267 93h1M340 93h1M365 93h1M373 93h1M106 94h1M115 94h1M150 94h1M239 94h1M304 94h1M373 94h1M375 94h1M4 95h1M45 95h1M69 95h1M166 95h1M289 95h1M297 95h1M342 95h2M358 95h1M466 95h1M18 96h1M128 96h1M150 96h1M213 96h1M268 96h1M276 96h1M344 96h1M370 96h1M383 96h1M429 96h1M432 96h1M450 96h1M150 97h1M241 97h1M251 97h1M337 97h1M466 97h1M97 98h1M104 98h1M111 98h1M117 98h1M137 98h1M249 98h1M255 98h1M461 98h1M475 98h1M75 99h1M118 99h1M238 99h1M297 99h1M411 99h1M442 99h1M38 100h1M240 100h1M244 100h1M353 100h1" stroke="#66a64a"/>
<path d="M311 1h1M334 1h1M404 1h1M385 2h1M126 3h1M420 3h1M167 4h1M382 4h1M476 4h1M25 5h1M387 5h1M490 5h1M165 6h1M298 6h1M374 6h1M406 6h1M415 6h1M431 6h1M30 7h1M120 7h1M332 7h1M411 7h1M435 7h1M470 7h1M29 8h1M92 8h1M330 8h1M333 8h1M355 8h1M364 8h1M387 8h1M470 8h1M481 8h2M344 9h1M439 9h1M503 9h1M156 10h1M169 10h1M191 10h1M248 10h1M346 10h1M401 10h1M413 10h1M465 10h1M148 11h1M351 11h1M428 11h1M73 12h1M139 12h1M332 12h1M338 12h1M368 12h1M372 12h1M386 12h1M490 12h1M132 13h1M152 13h1M177 13h1M328 13h1M419 13h1M169 14h1M241 14h2M346 15h1M462 15h1M498 15h1M144 16h1M163 16h1M170 16h1M314 16h1M325 16h1M381 16h1M439 16h1M493 16h1M65 17h1M96 17h1M135 17h1M276 17h1M335 17h1M386 17h1M393 17h1M431 17h1M138 18h1M143 18h1M238 18h1M271 18h1M287 18h1M290 18h1M358 18h1M70 19h1M136 19h1M143 19h1M158 19h1M240 19h1M319 19h1M347 19h1M363 19h1M395 19h1M415 19h1M434 19h1M162 20h1M247 20h1M325 20h1M338 20h1M341 20h1M350 20h1M369 20h1M27 21h1M100 21h1M158 21h1M219 21h1M248 21h1M289 21h1M323 21h1M483 21h1M166 22h2M425 22h1M57 23h1M62 23h1M125 23h1M272 23h1M331 23h1M342 23h1M367 23h1M369 23h1M420 23h1M230 24h1M236 24h1M338 24h1M342 24h1M355 24h1M417 24h1M31 25h1M146 25h1M162 25h1M174 25h1M191 25h1M209 25h1M248 25h1M307 25h1M318 25h1M320 25h1M329 25h2M347 25h1M356 25h1M386 25h1M441 25h1M499 25h1M28 26h1M129 26h1M138 26h1M157 26h1M185 26h1M204 26h1M223 26h1M344 26h1M354 26h2M362 26h1M466 26h1M36 27h1M43 27h1M139 27h2M151 27h1M165 27h1M229 27h1M232 27h1M245 27h1M340 27h1M345 27h1M354 27h1M386 27h1M501 27h1M45 28h1M96 28h1M154 28h1M236 28h1M261 28h1M351 28h1M374 28h1M385 28h1M134 29h1M152 29h1M248 29h1M254 29h1M272 29h1M324 29h1M337 29h1M348 29h2M360 29h1M499 29h1M44 30h1M61 30h1M66 30h1M96 30h1M110 30h1M127 30h2M157 30h1M236 30h1M247 30h1M268 30h1M304 30h1M343 30h1M345 30h1M363 30h1M378 30h1M46 31h1M71 31h1M142 31h1M148 31h1M165 31h1M212 31h1M241 31h1M313 31h1M322 31h1M332 31h1M342 31h1M346 31h1M353 31h1M22 32h1M34 32h1M45 32h1M54 32h1M56 32h1M167 32h1M170 32h1M236 32h1M241 32h1M247 32h1M277 32h1M340 32h1M380 32h1M43 33h1M122 33h1M139 33h1M151 33h1M153 33h2M199 33h1M216 33h1M261 33h1M304 33h1M311 33h1M316 33h1M335 33h2M346 33h1M380 33h1M383 33h1M427 33h1M500 33h1M43 34h1M115 34h1M140 34h1M142 34h1M145 34h1M148 34h2M155 34h1M160 34h1M163 34h1M168 34h1M215 34h1M246 34h1M255 34h1M257 34h1M259 34h1M328 34h1M359 34h1M501 34h1M20 35h1M52 35h1M137 35h1M139 35h1M146 35h1M157 35h1M159 35h2M165 35h1M169 35h1M178 35h1M246 35h1M255 35h2M266 35h1M324 35h1M336 35h1M340 35h1M352 35h1M355 35h1M374 35h1M405 35h1M46 36h1M131 36h1M133 36h1M139 36h1M152 36h1M161 36h1M166 36h1M188 36h1M220 36h1M241 36h1M246 36h1M254 36h1M256 36h1M258 36h1M314 36h2M332 36h1M340 36h1M350 36h2M361 36h1M373 36h2M438 36h1M52 37h1M123 37h1M147 37h1M151 37h2M173 37h1M243 37h1M349 37h1M375 37h1M416 37h1M31 38h1M48 38h1M51 38h1M53 38h1M71 38h1M111 38h1M116 38h1M128 38h1M143 38h1M148 38h1M151 38h1M153 38h3M157 38h1M160 38h1M162 38h1M164 38h1M172 38h1M185 38h1M248 38h1M256 38h1M309 38h1M320 38h1M368 38h1M45 39h1M48 39h1M61 39h1M108 39h1M121 39h1M133 39h1M144 39h1M150 39h1M154 39h1M163 39h1M168 39h1M174 39h1M208 39h1M254 39h1M267 39h1M343 39h1M376 39h1M379 39h1M384 39h1M408 39h1M416 39h1M41 40h1M56 40h2M67 40h1M138 40h1M146 40h1M150 40h1M154 40h1M163 40h1M170 40h1M172 40h1M199 40h1M242 40h2M249 40h2M272 40h1M311 40h1M323 40h1M331 40h1M333 40h1M341 40h2M355 40h2M361 40h1M395 40h1M36 41h1M39 41h1M49 41h1M60 41h2M65 41h1M67 41h1M81 41h1M123 41h1M133 41h1M137 41h1M144 41h1M148 41h1M157 41h1M160 41h1M182 41h1M184 41h1M247 41h1M257 41h1M259 41h1M276 41h1M293 41h1M325 41h1M342 41h1M352 41h1M362 41h1M495 41h1M65 42h1M78 42h1M83 42h1M95 42h1M136 42h2M140 42h1M144 42h2M147 42h1M166 42h1M177 42h2M192 42h2M246 42h1M248 42h1M253 42h1M276 42h1M282 42h1M363 42h2M422 42h1M30 43h1M42 43h1M46 43h1M57 43h1M60 43h1M105 43h1M127 43h1M138 43h2M143 43h1M150 43h1M153 43h1M155 43h1M158 43h1M163 43h1M173 43h1M182 43h1M235 43h1M238 43h1M275 43h1M322 43h1M326 43h1M343 43h1M358 43h1M361 43h1M404 43h1M440 43h1M474 43h1M498 43h1M36 44h1M51 44h1M54 44h2M68 44h1M76 44h1M119 44h1M122 44h1M132 44h2M136 44h1M142 44h2M146 44h1M151 44h1M159 44h1M166 44h1M172 44h1M235 44h1M245 44h1M248 44h1M250 44h2M261 44h1M312 44h1M324 44h1M326 44h1M338 44h2M342 44h2M349 44h1M385 44h1M435 44h1M469 44h1M499 44h1M36 45h1M39 45h1M42 45h1M67 45h1M71 45h1M78 45h1M127 45h1M148 45h1M150 45h1M155 45h1M161 45h2M164 45h3M246 45h1M258 45h4M267 45h1M273 45h1M314 45h1M332 45h1M346 45h1M353 45h1M363 45h1M366 45h1M370 45h1M384 45h1M40 46h1M52 46h1M54 46h1M62 46h1M127 46h1M137 46h1M148 46h1M158 46h1M163 46h1M182 46h1M240 46h1M248 46h1M259 46h1M267 46h1M273 46h1M288 46h1M336 46h1M341 46h1M374 46h2M44 47h1M46 47h1M49 47h1M52 47h1M63 47h3M112 47h1M131 47h1M137 47h1M145 47h1M151 47h1M155 47h1M157 47h1M162 47h1M169 47h1M174 47h1M194 47h1M225 47h1M227 47h1M238 47h1M259 47h1M264 47h1M270 47h1M275 47h2M325 47h1M340 47h1M344 47h2M347 47h1M367 47h1M374 47h1M379 47h1M386 47h1M30 48h1M51 48h1M55 48h1M61 48h1M137 48h1M144 48h1M148 48h1M154 48h1M159 48h2M167 48h2M178 48h1M244 48h1M257 48h1M259 48h1M275 48h1M290 48h1M334 48h1M342 48h1M345 48h1M365 48h2M385 48h1M490 48h1M2 49h1M38 49h1M43 49h1M48 49h1M52 49h1M58 49h1M110 49h1M122 49h1M137 49h1M144 49h3M175 49h1M188 49h1M212 49h1M236 49h1M262 49h1M267 49h1M279 49h1M293 49h1M332 49h1M334 49h1M343 49h1M458 49h1M13 50h1M37 50h3M44 50h1M57 50h1M60 50h1M62 50h2M69 50h1M133 50h1M142 50h1M145 50h1M152 50h1M155 50h1M164 50h1M171 50h1M174 50h1M222 50h1M235 50h1M242 50h1M258 50h1M262 50h2M279 50h1M283 50h1M291 50h1M328 50h1M336 50h1M371 50h1M42 51h1M44 51h1M63 51h1M69 51h1M133 51h1M136 51h1M138 51h1M144 51h1M157 51h1M161 51h2M164 51h1M168 51h1M206 51h1M231 51h1M244 51h1M246 51h1M251 51h1M262 51h1M267 51h1M286 51h1M315 51h1M333 51h1M339 51h1M20 52h1M28 52h1M32 52h1M42 52h2M46 52h1M52 52h1M56 52h1M58 52h2M61 52h1M132 52h1M146 52h1M151 52h1M155 52h1M157 52h1M176 52h1M231 52h1M256 52h1M263 52h1M331 52h1M368 52h1M374 52h1M380 52h1M18 53h1M31 53h1M45 53h1M47 53h1M51 53h1M60 53h1M64 53h1M66 53h1M128 53h2M131 53h1M137 53h1M139 53h1M143 53h1M148 53h1M152 53h1M154 53h1M159 53h2M162 53h1M168 53h1M173 53h1M188 53h1M235 53h1M271 53h1M287 53h1M324 53h1M330 53h1M332 53h1M338 53h1M368 53h1M374 53h1M382 53h1M422 53h1M501 53h1M42 54h1M49 54h1M60 54h1M64 54h1M134 54h1M137 54h1M141 54h1M164 54h1M166 54h4M171 54h1M185 54h1M232 54h1M242 54h1M263 54h1M317 54h1M385 54h1M390 54h1M29 55h1M40 55h1M43 55h1M45 55h1M59 55h3M74 55h1M119 55h1M148 55h1M150 55h1M158 55h1M162 55h1M168 55h1M186 55h1M223 55h1M233 55h1M244 55h1M257 55h1M264 55h1M268 55h1M313 55h1M330 55h2M335 55h1M350 55h2M355 55h1M364 55h1M378 55h1M49 56h1M51 56h1M53 56h1M60 56h1M62 56h1M65 56h1M67 56h1M134 56h1M143 56h2M146 56h1M148 56h1M151 56h3M157 56h1M162 56h1M174 56h1M233 56h1M244 56h1M262 56h1M279 56h1M283 56h1M336 56h1M360 56h1M411 56h1M438 56h1M37 57h1M48 57h1M56 57h2M65 57h1M116 57h1M125 57h1M127 57h1M139 57h2M146 57h1M148 57h2M156 57h1M158 57h1M160 57h1M178 57h1M235 57h1M237 57h1M245 57h1M267 57h1M270 57h1M337 57h1M340 57h1M344 57h1M373 57h1M383 57h1M491 57h1M33 58h1M39 58h2M45 58h1M57 58h1M65 58h1M73 58h1M113 58h1M126 58h1M131 58h1M137 58h1M141 58h1M153 58h1M155 58h1M158 58h1M165 58h2M168 58h1M192 58h1M231 58h1M237 58h1M240 58h1M243 58h1M252 58h1M258 58h2M267 58h1M284 58h1M321 58h1M327 58h1M336 58h1M344 58h1M353 58h1M362 58h1M413 58h1M37 59h1M42 59h2M45 59h1M47 59h1M50 59h1M60 59h1M162 59h2M176 59h1M209 59h1M232 59h1M236 59h1M240 59h1M259 59h2M282 59h1M328 59h2M344 59h1M357 59h1M376 59h1M392 59h1M40 60h1M42 60h1M45 60h2M65 60h1M129 60h1M140 60h1M144 60h1M148 60h1M151 60h1M164 60h1M170 60h1M257 60h1M265 60h1M269 60h1M277 60h1M332 60h2M340 60h1M343 60h1M364 60h2M378 60h1M32 61h1M38 61h2M53 61h1M79 61h1M81 61h1M130 61h1M163 61h1M173 61h1M175 61h1M251 61h1M264 61h1M266 61h1M268 61h1M300 61h1M325 61h2M332 61h1M342 61h1M375 61h1M381 61h1M387 61h1M421 61h1M443 61h1M490 61h1M47 62h1M55 62h1M57 62h2M65 62h1M138 62h1M150 62h1M158 62h1M231 62h1M248 62h2M265 62h1M270 62h1M365 62h1M372 62h2M384 62h1M441 62h1M54 63h1M134 63h1M138 63h1M140 63h1M143 63h1M145 63h1M147 63h1M152 63h3M163 63h1M191 63h1M195 63h1M218 63h1M242 63h1M246 63h1M250 63h1M256 63h2M321 63h1M353 63h1M380 63h1M45 64h1M53 64h1M55 64h1M60 64h2M65 64h1M69 64h1M156 64h2M164 64h2M174 64h1M178 64h1M214 64h1M240 64h1M250 64h2M253 64h2M256 64h2M260 64h1M332 64h1M349 64h1M365 64h1M385 64h1M414 64h1M11 65h1M51 65h1M55 65h1M69 65h1M141 65h1M146 65h1M149 65h1M160 65h1M222 65h1M228 65h1M238 65h1M241 65h1M256 65h1M289 65h1M305 65h1M325 65h1M330 65h1M334 65h1M341 65h1M428 65h1M476 65h1M53 66h1M139 66h1M145 66h1M147 66h1M151 66h1M160 66h2M167 66h1M243 66h1M254 66h1M257 66h1M336 66h1M338 66h1M347 66h1M54 67h1M60 67h1M133 67h1M143 67h1M146 67h1M148 67h1M152 67h2M161 67h2M173 67h1M221 67h1M262 67h1M265 67h1M270 67h1M299 67h1M312 67h1M334 67h1M347 67h1M364 67h1M401 67h1M503 67h1M38 68h1M43 68h1M54 68h1M149 68h1M157 68h1M159 68h1M246 68h1M258 68h1M261 68h1M263 68h1M268 68h1M282 68h1M342 68h2M347 68h1M359 68h1M370 68h1M24 69h1M40 69h1M57 69h1M132 69h1M140 69h1M145 69h1M149 69h1M152 69h2M172 69h1M232 69h1M239 69h1M241 69h1M249 69h2M269 69h1M272 69h1M308 69h1M332 69h2M340 69h2M345 69h1M348 69h1M375 69h1M32 70h1M46 70h1M134 70h1M145 70h1M152 70h1M156 70h1M173 70h1M230 70h1M244 70h1M247 70h1M258 70h1M268 70h1M306 70h1M325 70h1M327 70h1M344 70h1M346 70h1M351 70h1M372 70h1M375 70h1M377 70h1M395 70h1M457 70h1M45 71h1M50 71h1M57 71h1M63 71h1M143 71h1M145 71h1M149 71h1M157 71h1M177 71h1M244 71h3M253 71h1M257 71h1M261 71h1M293 71h1M338 71h1M341 71h1M347 71h1M356 71h1M361 71h1M367 71h1M369 71h1M407 71h1M33 72h1M39 72h1M54 72h1M82 72h1M127 72h1M145 72h2M151 72h1M153 72h1M162 72h1M166 72h1M172 72h1M243 72h1M245 72h1M249 72h1M281 72h1M341 72h1M355 72h1M389 72h1M421 72h1M54 73h1M145 73h1M164 73h1M180 73h1M244 73h1M314 73h1M328 73h1M331 73h1M333 73h1M342 73h3M347 73h1M358 73h2M378 73h1M402 73h1M464 73h1M31 74h1M44 74h1M240 74h1M261 74h1M345 74h1M347 74h1M361 74h1M364 74h1M369 74h1M484 74h2M29 75h1M31 75h1M54 75h1M60 75h1M109 75h1M117 75h1M154 75h1M169 75h1M238 75h1M251 75h1M256 75h2M276 75h1M338 75h1M342 75h1M350 75h1M422 75h1M146 76h1M150 76h1M162 76h1M170 76h1M174 76h1M188 76h1M217 76h1M230 76h1M268 76h1M330 76h1M332 76h1M335 76h1M341 76h1M358 76h1M365 76h1M371 76h1M60 77h1M128 77h1M141 77h1M153 77h1M235 77h1M258 77h1M326 77h1M367 77h1M435 77h1M480 77h1M37 78h1M97 78h1M148 78h1M155 78h1M168 78h1M234 78h1M251 78h1M262 78h1M268 78h1M316 78h1M340 78h1M347 78h1M350 78h1M374 78h1M398 78h1M435 78h1M50 79h2M109 79h1M195 79h1M227 79h1M344 79h1M359 79h1M363 79h1M32 80h1M96 80h1M126 80h1M159 80h1M231 80h1M236 80h1M262 80h1M327 80h1M333 80h1M364 80h1M366 80h1M377 80h1M428 80h1M486 80h1M53 81h1M183 81h1M260 81h1M333 81h1M346 81h1M61 82h1M141 82h1M157 82h1M247 82h1M250 82h1M314 82h1M336 82h1M356 82h1M358 82h1M373 82h1M455 82h1M153 83h1M240 83h1M262 83h1M350 83h1M354 83h1M373 83h1M397 83h1M497 83h1M72 84h1M75 84h1M113 84h1M117 84h1M159 84h1M304 84h1M355 84h1M361 84h1M363 84h1M391 84h1M418 84h1M440 84h1M63 85h1M136 85h1M296 85h1M383 85h1M414 85h1M423 85h1M481 85h1M76 86h1M329 86h1M344 86h1M360 86h1M368 86h1M15 87h1M89 87h1M165 87h1M264 87h1M310 87h1M355 87h1M372 87h1M340 88h1M342 88h1M349 88h1M409 88h1M328 89h1M377 89h1M484 89h1M233 90h1M258 90h1M269 90h1M277 90h1M338 90h1M345 90h1M376 90h1M455 90h1M470 90h1M496 90h1M35 91h1M130 91h1M164 91h1M446 91h1M37 92h1M142 92h1M285 92h1M452 92h1M256 93h1M355 93h1M362 93h2M436 93h1M145 94h1M267 94h1M339 94h1M357 94h1M478 94h1M497 94h1M97 95h1M401 95h1M39 96h1M137 96h1M256 96h1M380 96h1M421 96h1M428 96h1M440 96h1M71 97h1M458 97h1M160 98h1M181 98h1M482 98h1M485 98h1M497 98h1M140 99h1M159 99h1M166 99h1M120 100h1M169 100h1M427 100h1" stroke="#82cc64"/>
<path d="M337 13h1M356 18h1M360 21h1M355 22h1M359 22h1M350 23h1M157 24h1M334 24h1M344 24h1M346 24h1M341 25h1M357 25h1M367 25h1M148 26h1M159 26h1M256 26h1M343 26h1M366 26h1M142 27h1M343 27h1M352 27h1M372 27h1M144 28h1M151 28h1M157 28h1M328 28h1M356 28h1M143 29h1M147 29h1M163 29h1M336 29h1M346 29h1M354 29h1M372 29h1M383 29h1M137 30h1M162 30h1M166 30h1M230 30h1M348 30h1M352 30h1M149 31h1M168 31h1M254 31h1M257 31h1M343 31h1M349 31h1M361 31h1M369 31h1M163 32h1M169 32h1M240 32h1M329 32h1M364 32h1M368 32h1M143 33h1M235 33h1M240 33h1M271 33h1M345 33h1M347 33h1M361 33h2M158 34h1M161 34h1M252 34h1M263 34h1M344 34h1M352 34h1M145 35h1M162 35h1M171 35h1M247 35h1M251 35h1M261 35h1M360 35h1M52 36h1M54 36h1M56 36h1M142 36h1M147 36h1M149 36h1M158 36h1M165 36h1M171 36h1M174 36h1M235 36h1M245 36h1M333 36h1M49 37h1M127 37h2M143 37h1M158 37h2M165 37h1M315 37h1M330 37h1M332 37h1M334 37h1M341 37h1M364 37h1M59 38h1M61 38h1M149 38h1M163 38h1M165 38h1M168 38h1M234 38h1M237 38h1M244 38h1M253 38h1M332 38h1M340 38h1M346 38h1M349 38h2M369 38h1M46 39h2M53 39h1M63 39h2M149 39h1M157 39h1M159 39h2M225 39h1M232 39h1M249 39h1M256 39h1M261 39h1M272 39h1M338 39h1M345 39h1M361 39h1M364 39h1M52 40h1M133 40h1M140 40h1M147 40h1M149 40h1M152 40h1M155 40h1M157 40h1M161 40h2M168 40h1M314 40h1M332 40h1M150 41h1M152 41h1M164 41h2M167 41h2M170 41h1M180 41h1M238 41h1M246 41h1M248 41h1M252 41h1M326 41h1M329 41h1M341 41h1M344 41h1M348 41h1M380 41h1M42 42h3M49 42h1M51 42h2M55 42h1M62 42h1M141 42h1M143 42h1M155 42h1M159 42h1M164 42h2M167 42h2M175 42h1M235 42h1M249 42h1M256 42h1M269 42h1M323 42h1M327 42h1M350 42h1M61 43h2M130 43h1M132 43h1M152 43h1M154 43h1M159 43h1M224 43h1M230 43h1M241 43h1M245 43h1M251 43h1M256 43h1M260 43h1M334 43h1M345 43h1M350 43h1M363 43h1M370 43h1M44 44h1M50 44h1M134 44h1M139 44h1M164 44h1M232 44h2M271 44h1M321 44h1M365 44h1M367 44h2M38 45h1M63 45h2M136 45h1M141 45h2M146 45h1M151 45h2M154 45h1M158 45h1M163 45h1M173 45h1M237 45h1M245 45h1M250 45h2M274 45h1M325 45h1M333 45h1M351 45h1M47 46h3M58 46h1M65 46h1M126 46h1M146 46h1M162 46h1M164 46h1M168 46h1M170 46h1M247 46h1M252 46h1M262 46h1M332 46h1M337 46h1M344 46h1M377 46h1M48 47h1M51 47h1M69 47h1M132 47h1M143 47h2M146 47h1M148 47h1M170 47h1M242 47h1M248 47h1M265 47h1M324 47h1M326 47h1M348 47h2M44 48h1M47 48h2M57 48h2M64 48h1M130 48h1M136 48h1M140 48h1M142 48h2M145 48h1M161 48h1M179 48h1M230 48h1M235 48h1M241 48h1M260 48h1M264 48h1M280 48h1M332 48h2M337 48h1M347 48h1M36 49h1M54 49h1M56 49h2M62 49h1M70 49h1M128 49h1M140 49h1M143 49h1M161 49h1M171 49h2M314 49h1M325 49h1M328 49h1M339 49h1M344 49h1M368 49h1M51 50h1M53 50h2M56 50h1M58 50h1M138 50h1M143 50h1M160 50h2M176 50h1M228 50h1M230 50h1M254 50h1M259 50h2M275 50h1M342 50h1M378 50h1M387 50h1M41 51h1M59 51h1M64 51h1M71 51h1M132 51h1M137 51h1M141 51h1M149 51h1M153 51h1M160 51h1M169 51h1M174 51h1M226 51h1M266 51h1M366 51h1M57 52h1M64 52h2M123 52h1M168 52h1M171 52h1M232 52h2M243 52h1M245 52h1M260 52h1M330 52h1M334 52h1M336 52h1M340 52h1M379 52h1M382 52h1M38 53h1M46 53h1M58 53h1M62 53h1M71 53h1M130 53h1M133 53h1M136 53h1M141 53h1M157 53h1M166 53h2M269 53h1M325 53h1M327 53h1M351 53h1M370 53h1M51 54h1M57 54h1M59 54h1M61 54h1M63 54h1M65 54h1M68 54h1M77 54h1M138 54h1M161 54h2M165 54h1M175 54h1M273 54h1M335 54h1M374 54h1M39 55h1M51 55h1M57 55h1M66 55h1M69 55h1M118 55h1M159 55h1M163 55h1M166 55h1M169 55h1M171 55h2M357 55h1M39 56h1M42 56h1M59 56h1M66 56h1M71 56h1M136 56h1M140 56h1M145 56h1M147 56h1M150 56h1M226 56h1M231 56h1M236 56h1M238 56h1M240 56h1M253 56h1M270 56h1M275 56h1M324 56h1M337 56h1M344 56h1M379 56h1M36 57h1M54 57h1M129 57h1M133 57h2M144 57h1M241 57h2M260 57h2M266 57h1M332 57h1M341 57h1M361 57h1M372 57h1M46 58h1M51 58h1M130 58h1M149 58h1M167 58h1M173 58h1M229 58h1M266 58h1M338 58h1M342 58h1M360 58h1M365 58h1M372 58h1M49 59h1M59 59h1M121 59h1M139 59h1M142 59h1M151 59h2M155 59h1M166 59h1M229 59h1M239 59h1M246 59h1M262 59h1M274 59h1M322 59h1M324 59h1M340 59h1M353 59h1M371 59h1M382 59h1M50 60h2M160 60h3M253 60h1M256 60h1M273 60h1M323 60h2M334 60h1M48 61h1M51 61h1M64 61h1M134 61h1M140 61h2M143 61h1M146 61h1M153 61h1M157 61h1M162 61h1M168 61h2M255 61h1M263 61h1M265 61h1M272 61h2M334 61h1M346 61h1M349 61h1M355 61h1M358 61h1M365 61h1M370 61h1M62 62h1M66 62h1M142 62h1M148 62h1M155 62h1M160 62h1M163 62h1M165 62h1M167 62h1M238 62h1M243 62h1M260 62h1M264 62h1M327 62h1M351 62h2M356 62h1M383 62h1M35 63h1M46 63h1M55 63h2M59 63h1M62 63h1M158 63h1M161 63h1M167 63h1M251 63h1M255 63h1M262 63h1M264 63h1M266 63h3M337 63h2M348 63h1M361 63h1M367 63h1M47 64h1M50 64h1M58 64h1M129 64h1M139 64h1M147 64h1M150 64h1M154 64h1M158 64h1M161 64h1M233 64h1M238 64h1M241 64h1M246 64h1M249 64h1M267 64h1M348 64h1M357 64h1M50 65h1M56 65h2M59 65h2M126 65h1M140 65h1M144 65h1M150 65h1M164 65h1M172 65h1M257 65h1M328 65h1M359 65h1M375 65h1M41 66h1M131 66h2M150 66h1M158 66h2M223 66h1M245 66h3M253 66h1M271 66h1M319 66h1M348 66h2M47 67h1M59 67h1M132 67h1M140 67h1M147 67h1M149 67h1M151 67h1M154 67h1M157 67h1M246 67h1M252 67h1M260 67h1M266 67h1M325 67h1M335 67h1M359 67h1M363 67h1M368 67h2M380 67h1M49 68h1M56 68h1M133 68h1M150 68h1M155 68h2M158 68h1M163 68h1M169 68h1M234 68h1M250 68h1M252 68h1M265 68h1M332 68h1M337 68h1M348 68h1M360 68h1M137 69h1M143 69h1M146 69h1M151 69h1M154 69h1M158 69h1M166 69h1M257 69h1M261 69h1M263 69h1M336 69h1M342 69h1M344 69h1M347 69h1M349 69h1M352 69h1M370 69h1M378 69h1M153 70h1M160 70h1M163 70h1M238 70h1M254 70h1M259 70h1M321 70h1M340 70h1M347 70h1M361 70h1M140 71h1M144 71h1M150 71h1M159 71h1M166 71h1M252 71h1M256 71h1M267 71h1M340 71h1M346 71h1M351 71h1M365 71h1M134 72h1M147 72h2M158 72h1M165 72h1M168 72h1M266 72h1M328 72h1M339 72h1M342 72h1M346 72h1M359 72h2M56 73h1M133 73h1M136 73h1M159 73h1M264 73h1M383 73h1M141 74h1M149 74h1M152 74h1M157 74h1M252 74h1M267 74h1M332 74h1M336 74h1M341 74h1M352 74h1M357 74h1M374 74h1M140 75h1M144 75h1M160 75h1M247 75h1M329 75h1M171 76h2M249 76h1M252 76h1M328 76h1M344 76h1M348 76h1M357 76h1M372 76h1M148 77h1M248 77h1M251 77h1M343 77h2M361 77h2M152 78h1M162 78h1M324 78h1M339 79h1M345 79h1M360 79h1M364 79h2M240 80h1M362 80h1M136 81h1M155 81h1M243 81h2M264 81h1M350 81h1M367 81h1M334 83h1M349 83h1M355 83h1M350 87h1M347 88h1M348 89h1" stroke="#a0e684"/>
<path d="M157 27h1M150 30h1M156 30h1M145 32h1M152 32h1M156 32h1M138 33h1M147 33h2M157 33h1M162 33h1M144 34h1M146 34h1M150 34h1M153 35h2M161 35h1M146 36h1M150 36h1M156 36h1M160 36h1M347 36h1M51 37h1M137 37h1M148 37h2M153 37h1M157 37h1M248 37h1M346 37h1M136 38h1M141 38h1M144 38h1M152 38h1M156 38h1M263 38h1M57 39h1M139 39h1M142 39h1M145 39h2M153 39h1M262 39h1M332 39h1M142 40h1M145 40h1M151 40h1M160 40h1M338 40h1M51 41h1M53 41h1M55 41h2M141 41h1M145 41h2M158 41h1M343 41h1M46 42h1M54 42h1M61 42h1M142 42h1M146 42h1M150 42h1M153 42h1M158 42h1M162 42h1M170 42h1M260 42h2M268 42h1M50 43h1M55 43h1M137 43h1M140 43h2M145 43h1M147 43h2M156 43h1M160 43h1M164 43h1M174 43h1M266 43h1M47 44h2M140 44h2M160 44h2M163 44h1M170 44h1M264 44h1M266 44h1M334 44h1M47 45h1M51 45h1M53 45h1M56 45h1M58 45h1M61 45h1M137 45h1M144 45h1M168 45h1M172 45h1M241 45h1M337 45h1M343 45h1M56 46h2M59 46h1M138 46h1M140 46h1M142 46h2M147 46h1M151 46h1M154 46h1M159 46h1M173 46h1M261 46h1M50 47h1M53 47h1M129 47h1M141 47h1M149 47h1M161 47h1M234 47h1M251 47h1M343 47h1M40 48h1M43 48h1M49 48h2M52 48h2M56 48h1M60 48h1M138 48h1M146 48h1M149 48h2M153 48h1M162 48h1M165 48h1M262 48h1M44 49h1M51 49h1M61 49h1M136 49h1M142 49h1M147 49h1M156 49h1M162 49h1M263 49h2M50 50h1M55 50h1M131 50h1M144 50h1M146 50h1M148 50h1M150 50h1M156 50h1M162 50h2M165 50h2M245 50h1M48 51h1M140 51h1M146 51h2M158 51h2M165 51h2M173 51h1M235 51h1M263 51h1M41 52h1M44 52h1M48 52h2M62 52h1M134 52h1M141 52h2M145 52h1M158 52h1M161 52h1M175 52h1M237 52h1M264 52h1M48 53h1M57 53h1M134 53h1M138 53h1M146 53h2M151 53h1M266 53h1M335 53h2M46 54h1M67 54h1M131 54h1M143 54h1M153 54h2M159 54h1M163 54h1M262 54h1M265 54h1M267 54h1M339 54h1M42 55h1M44 55h1M132 55h1M137 55h2M142 55h3M146 55h1M151 55h2M156 55h1M165 55h1M170 55h1M237 55h1M261 55h1M269 55h1M333 55h1M341 55h1M43 56h1M45 56h1M48 56h1M50 56h1M69 56h2M137 56h1M141 56h1M149 56h1M155 56h1M163 56h1M169 56h1M171 56h1M173 56h1M268 56h1M333 56h1M342 56h1M373 56h1M39 57h1M46 57h1M60 57h2M136 57h1M138 57h1M141 57h2M150 57h1M152 57h1M155 57h1M157 57h1M162 57h2M169 57h1M256 57h1M259 57h1M334 57h1M48 58h1M133 58h2M142 58h2M146 58h1M151 58h1M159 58h1M161 58h3M238 58h1M261 58h1M264 58h1M329 58h1M339 58h1M46 59h1M52 59h2M57 59h2M140 59h2M143 59h3M147 59h1M150 59h1M153 59h1M161 59h1M165 59h1M169 59h2M234 59h1M245 59h1M255 59h1M257 59h2M263 59h1M331 59h1M44 60h1M47 60h1M58 60h1M61 60h1M136 60h2M139 60h1M141 60h1M143 60h1M149 60h1M152 60h2M155 60h1M168 60h1M238 60h1M247 60h1M249 60h1M251 60h1M258 60h1M260 60h1M262 60h1M335 60h1M55 61h1M57 61h1M144 61h1M154 61h1M158 61h1M160 61h1M165 61h1M167 61h1M250 61h1M253 61h1M258 61h1M262 61h1M269 61h1M356 61h1M50 62h1M54 62h1M135 62h1M140 62h1M144 62h1M154 62h1M157 62h1M164 62h1M169 62h1M172 62h1M244 62h1M247 62h1M256 62h1M259 62h1M261 62h2M334 62h1M340 62h1M354 62h1M41 63h1M45 63h1M52 63h1M65 63h1M141 63h1M160 63h1M164 63h1M166 63h1M168 63h1M244 63h2M259 63h1M334 63h1M42 64h1M142 64h1M144 64h1M159 64h1M162 64h1M243 64h2M248 64h1M262 64h1M334 64h1M340 64h1M346 64h1M63 65h1M136 65h1M151 65h2M154 65h1M157 65h1M162 65h1M167 65h1M246 65h1M250 65h1M264 65h1M352 65h1M362 65h1M52 66h1M144 66h1M146 66h1M157 66h1M165 66h1M252 66h1M256 66h1M259 66h1M358 66h1M49 67h1M158 67h1M164 67h1M247 67h1M254 67h1M261 67h1M362 67h1M52 68h1M140 68h1M162 68h1M167 68h1M240 68h1M336 68h1M345 68h1M353 68h1M363 68h1M368 68h1M139 69h1M147 69h1M157 69h1M251 69h1M330 69h1M339 69h1M359 69h1M143 70h1M146 70h1M150 70h1M248 70h1M338 70h1M354 70h1M364 70h1M153 71h2M247 71h1M254 71h2M258 71h1M354 71h1M149 72h1M163 72h1M254 72h1M257 72h1M261 72h1M336 72h1M254 73h1M341 73h1M352 73h1M367 73h1M148 74h1M156 74h1M249 74h1M259 74h1M356 75h1" stroke="#c6fbae"/>
</g></g>
<rect x="101" y="1" width="1" height="100" fill="#d8d8d8"/>
<rect x="202" y="1" width="1" height="100" fill="#d0d0d0"/>
<rect x="303" y="1" width="1" height="100" fill="#c8c8c8"/>
<rect x="403" y="1" width="1" height="100" fill="#8a8a8a"/>
<text x="4.6" y="17.2" font-size="14.4" font-weight="bold" style="fill:#fff;stroke:#fff;stroke-width:.35">A</text>
<g id="panelB">
<text x="3.3" y="114.6" font-size="13.8" font-weight="bold" class="bl" textLength="9.2" lengthAdjust="spacingAndGlyphs">B</text>
<path d="M29.9 111V273.5H237.6" stroke="#8c8c8c" stroke-width="0.65" fill="none"/>
<path d="M29.9 240.1h1.6M29.9 205.9h1.6M29.9 171.6h1.6M29.9 137.4h1.6M81.5 273.5v-1.6M133.2 273.5v-1.6M184.9 273.5v-1.6M236.6 273.5v-1.6" stroke="#8c8c8c" stroke-width="0.65" fill="none"/>
<text x="27.2" y="244" font-size="8.8" text-anchor="end">5</text>
<text x="27.2" y="209.8" font-size="8.8" text-anchor="end">10</text>
<text x="27.2" y="175.5" font-size="8.8" text-anchor="end">15</text>
<text x="27.2" y="141.3" font-size="8.8" text-anchor="end">20</text>
<text x="29.8" y="283.8" font-size="8.4" text-anchor="middle">0</text>
<text x="81.5" y="283.8" font-size="8.4" text-anchor="middle">100</text>
<text x="133.2" y="283.8" font-size="8.4" text-anchor="middle">200</text>
<text x="184.9" y="283.8" font-size="8.4" text-anchor="middle">300</text>
<text x="236.6" y="283.8" font-size="8.4" text-anchor="middle">400</text>
<text transform="translate(12.7 195.4) rotate(-90)" font-size="11.6" text-anchor="middle" textLength="107.5" lengthAdjust="spacingAndGlyphs">Normalized cell density</text>
<text x="132.8" y="294.4" font-size="10" text-anchor="middle" textLength="63.5" lengthAdjust="spacingAndGlyphs">Position (μm)</text>
<path d="M31.1 197.8V209.5M28.9 197.8h4.4M28.9 209.5h4.4M33.7 203.3V212M31.5 203.3h4.4M31.5 212h4.4M36.3 205.7V214M34.1 205.7h4.4M34.1 214h4.4M38.8 204.7V210.8M36.6 204.7h4.4M36.6 210.8h4.4M41.4 200V206.5M39.2 200h4.4M39.2 206.5h4.4M44 197.8V203.6M41.8 197.8h4.4M41.8 203.6h4.4M46.6 188.7V193.9M44.4 188.7h4.4M44.4 193.9h4.4M49.2 182V188M47 182h4.4M47 188h4.4M51.8 172.8V178.2M49.6 172.8h4.4M49.6 178.2h4.4M54.4 167.4V173.5M52.2 167.4h4.4M52.2 173.5h4.4M56.9 167.2V172.6M54.7 167.2h4.4M54.7 172.6h4.4M59.5 166V171.3M57.3 166h4.4M57.3 171.3h4.4M62.1 162.9V168.9M59.9 162.9h4.4M59.9 168.9h4.4M64.7 160.1V166.9M62.5 160.1h4.4M62.5 166.9h4.4M67.3 159.2V164.8M65.1 159.2h4.4M65.1 164.8h4.4M69.9 158.6V164.3M67.7 158.6h4.4M67.7 164.3h4.4M72.5 160.4V166.8M70.3 160.4h4.4M70.3 166.8h4.4M75 161.5V168.4M72.8 161.5h4.4M72.8 168.4h4.4M77.6 165.3V171.4M75.4 165.3h4.4M75.4 171.4h4.4M80.2 167.2V172.9M78 167.2h4.4M78 172.9h4.4M82.8 171.6V178.1M80.6 171.6h4.4M80.6 178.1h4.4M85.4 176.7V181.4M83.2 176.7h4.4M83.2 181.4h4.4M88 179.9V185.8M85.8 179.9h4.4M85.8 185.8h4.4M90.5 186.1V190.9M88.3 186.1h4.4M88.3 190.9h4.4M93.1 193.9V198.3M90.9 193.9h4.4M90.9 198.3h4.4M95.7 199.8V203.9M93.5 199.8h4.4M93.5 203.9h4.4M98.3 205.1V209.4M96.1 205.1h4.4M96.1 209.4h4.4M100.9 209.9V214.6M98.7 209.9h4.4M98.7 214.6h4.4M103.5 214.9V218.6M101.3 214.9h4.4M101.3 218.6h4.4M106.1 218.3V222.4M103.9 218.3h4.4M103.9 222.4h4.4M108.6 221.1V225.2M106.4 221.1h4.4M106.4 225.2h4.4M111.2 224.1V227.7M109 224.1h4.4M109 227.7h4.4M113.8 226.5V230.3M111.6 226.5h4.4M111.6 230.3h4.4M116.4 229.2V232.4M114.2 229.2h4.4M114.2 232.4h4.4M119 231.5V234.6M116.8 231.5h4.4M116.8 234.6h4.4M121.6 233.5V236.6M119.4 233.5h4.4M119.4 236.6h4.4M124.2 235.9V239.4M122 235.9h4.4M122 239.4h4.4M126.7 237.9V241.1M124.5 237.9h4.4M124.5 241.1h4.4M129.3 239.6V242.6M127.1 239.6h4.4M127.1 242.6h4.4M131.9 242V245.2M129.7 242h4.4M129.7 245.2h4.4M134.5 244.2V247.2M132.3 244.2h4.4M132.3 247.2h4.4M137.1 245.8V248.7M134.9 245.8h4.4M134.9 248.7h4.4M139.7 246.7V249.9M137.5 246.7h4.4M137.5 249.9h4.4M142.2 248.5V251.6M140 248.5h4.4M140 251.6h4.4M144.8 249.8V252.5M142.6 249.8h4.4M142.6 252.5h4.4M147.4 251.4V254.2M145.2 251.4h4.4M145.2 254.2h4.4M150 252.7V255.5M147.8 252.7h4.4M147.8 255.5h4.4M152.6 253.8V256.8M150.4 253.8h4.4M150.4 256.8h4.4M155.2 255V257.8M153 255h4.4M153 257.8h4.4M157.8 256.1V258.5M155.6 256.1h4.4M155.6 258.5h4.4M160.3 256.3V259.3M158.1 256.3h4.4M158.1 259.3h4.4M162.9 257.5V259.8M160.7 257.5h4.4M160.7 259.8h4.4M165.5 258.3V260.8M163.3 258.3h4.4M163.3 260.8h4.4M168.1 258.5V261.2M165.9 258.5h4.4M165.9 261.2h4.4M170.7 259.5V261.7M168.5 259.5h4.4M168.5 261.7h4.4M173.3 259.8V262.3M171.1 259.8h4.4M171.1 262.3h4.4M175.9 260.5V262.6M173.7 260.5h4.4M173.7 262.6h4.4M178.4 260.8V263.3M176.2 260.8h4.4M176.2 263.3h4.4M181 261.1V263.7M178.8 261.1h4.4M178.8 263.7h4.4M183.6 261.3V263.8M181.4 261.3h4.4M181.4 263.8h4.4M186.2 261.5V264.2M184 261.5h4.4M184 264.2h4.4M188.8 262V264.3M186.6 262h4.4M186.6 264.3h4.4M191.4 262.3V264.8M189.2 262.3h4.4M189.2 264.8h4.4M193.9 262.9V265.3M191.7 262.9h4.4M191.7 265.3h4.4M196.5 263.1V265.5M194.3 263.1h4.4M194.3 265.5h4.4M199.1 263.2V265.5M196.9 263.2h4.4M196.9 265.5h4.4M201.7 263.4V266M199.5 263.4h4.4M199.5 266h4.4M204.3 263.4V266.1M202.1 263.4h4.4M202.1 266.1h4.4M206.9 263.8V266.2M204.7 263.8h4.4M204.7 266.2h4.4M209.5 264.2V266.6M207.3 264.2h4.4M207.3 266.6h4.4M212 264.4V266.4M209.8 264.4h4.4M209.8 266.4h4.4M214.6 264.6V267M212.4 264.6h4.4M212.4 267h4.4M217.2 264.7V267.1M215 264.7h4.4M215 267.1h4.4M219.8 264.7V267.4M217.6 264.7h4.4M217.6 267.4h4.4M222.4 265V267.5M220.2 265h4.4M220.2 267.5h4.4M225 265.3V267.5M222.8 265.3h4.4M222.8 267.5h4.4M227.6 265.4V267.6M225.4 265.4h4.4M225.4 267.6h4.4M230.1 265.5V267.9M227.9 265.5h4.4M227.9 267.9h4.4M232.7 265.8V267.8M230.5 265.8h4.4M230.5 267.8h4.4M235.3 265.8V268.1M233.1 265.8h4.4M233.1 268.1h4.4" stroke="#8cab4c" stroke-width="0.75" fill="none"/><path d="M31.1 203.6h0M33.7 207.7h0M36.3 209.8h0M38.8 207.7h0M41.4 203.3h0M44 200.7h0M46.6 191.3h0M49.2 185h0M51.8 175.5h0M54.4 170.4h0M56.9 169.9h0M59.5 168.7h0M62.1 165.9h0M64.7 163.5h0M67.3 162h0M69.9 161.5h0M72.5 163.6h0M75 164.9h0M77.6 168.3h0M80.2 170h0M82.8 174.9h0M85.4 179.1h0M88 182.9h0M90.5 188.5h0M93.1 196.1h0M95.7 201.8h0M98.3 207.2h0M100.9 212.3h0M103.5 216.7h0M106.1 220.4h0M108.6 223.2h0M111.2 225.9h0M113.8 228.4h0M116.4 230.8h0M119 233h0M121.6 235h0M124.2 237.6h0M126.7 239.5h0M129.3 241.1h0M131.9 243.6h0M134.5 245.7h0M137.1 247.3h0M139.7 248.3h0M142.2 250.1h0M144.8 251.2h0M147.4 252.8h0M150 254.1h0M152.6 255.3h0M155.2 256.4h0M157.8 257.3h0M160.3 257.8h0M162.9 258.7h0M165.5 259.6h0M168.1 259.8h0M170.7 260.6h0M173.3 261.1h0M175.9 261.5h0M178.4 262h0M181 262.4h0M183.6 262.6h0M186.2 262.9h0M188.8 263.2h0M191.4 263.5h0M193.9 264.1h0M196.5 264.3h0M199.1 264.4h0M201.7 264.7h0M204.3 264.8h0M206.9 265h0M209.5 265.4h0M212 265.4h0M214.6 265.8h0M217.2 265.9h0M219.8 266h0M222.4 266.2h0M225 266.4h0M227.6 266.5h0M230.1 266.7h0M232.7 266.8h0M235.3 267h0" stroke="#5c8c1c" stroke-width="3.3" stroke-linecap="round" fill="none"/>
<path d="M31.1 253V259.4M28.9 253h4.4M28.9 259.4h4.4M33.7 251.3V256.8M31.5 251.3h4.4M31.5 256.8h4.4M36.3 246.8V251.8M34.1 246.8h4.4M34.1 251.8h4.4M38.8 251.5V256.5M36.6 251.5h4.4M36.6 256.5h4.4M41.4 253.8V257.4M39.2 253.8h4.4M39.2 257.4h4.4M44 247.5V251.4M41.8 247.5h4.4M41.8 251.4h4.4M46.6 241.9V246.1M44.4 241.9h4.4M44.4 246.1h4.4M49.2 235.6V240.7M47 235.6h4.4M47 240.7h4.4M51.8 230.6V234.8M49.6 230.6h4.4M49.6 234.8h4.4M54.4 224.6V229.6M52.2 224.6h4.4M52.2 229.6h4.4M56.9 218V223.5M54.7 218h4.4M54.7 223.5h4.4M59.5 210.5V216.9M57.3 210.5h4.4M57.3 216.9h4.4M62.1 206.9V213.3M59.9 206.9h4.4M59.9 213.3h4.4M64.7 204.3V211M62.5 204.3h4.4M62.5 211h4.4M67.3 203.6V209.2M65.1 203.6h4.4M65.1 209.2h4.4M69.9 203.3V209.2M67.7 203.3h4.4M67.7 209.2h4.4M72.5 202V207.9M70.3 202h4.4M70.3 207.9h4.4M75 200.7V207.6M72.8 200.7h4.4M72.8 207.6h4.4M77.6 200.5V207.5M75.4 200.5h4.4M75.4 207.5h4.4M80.2 200.7V206.3M78 200.7h4.4M78 206.3h4.4M82.8 201.4V206.9M80.6 201.4h4.4M80.6 206.9h4.4M85.4 201.4V207.1M83.2 201.4h4.4M83.2 207.1h4.4M88 203.2V208.7M85.8 203.2h4.4M85.8 208.7h4.4M90.5 204.9V210.8M88.3 204.9h4.4M88.3 210.8h4.4M93.1 207V213M90.9 207h4.4M90.9 213h4.4M95.7 210.3V215.6M93.5 210.3h4.4M93.5 215.6h4.4M98.3 213.8V218.4M96.1 213.8h4.4M96.1 218.4h4.4M100.9 215.3V220.5M98.7 215.3h4.4M98.7 220.5h4.4M103.5 216.5V221.6M101.3 216.5h4.4M101.3 221.6h4.4M106.1 220.8V225.9M103.9 220.8h4.4M103.9 225.9h4.4M108.6 222V227.6M106.4 222h4.4M106.4 227.6h4.4M111.2 223.8V228.9M109 223.8h4.4M109 228.9h4.4M113.8 226.3V231M111.6 226.3h4.4M111.6 231h4.4M116.4 228.8V233.5M114.2 228.8h4.4M114.2 233.5h4.4M119 231.8V236.4M116.8 231.8h4.4M116.8 236.4h4.4M121.6 234.8V238.4M119.4 234.8h4.4M119.4 238.4h4.4M124.2 235.7V240.3M122 235.7h4.4M122 240.3h4.4M126.7 238.2V242.5M124.5 238.2h4.4M124.5 242.5h4.4M129.3 240.1V244.4M127.1 240.1h4.4M127.1 244.4h4.4M131.9 242.5V246.6M129.7 242.5h4.4M129.7 246.6h4.4M134.5 245.2V248.7M132.3 245.2h4.4M132.3 248.7h4.4M137.1 246.4V249.9M134.9 246.4h4.4M134.9 249.9h4.4M139.7 248V251M137.5 248h4.4M137.5 251h4.4M142.2 249.7V253.2M140 249.7h4.4M140 253.2h4.4M144.8 252V254.8M142.6 252h4.4M142.6 254.8h4.4M147.4 252.8V255.6M145.2 252.8h4.4M145.2 255.6h4.4M150 253.7V256.6M147.8 253.7h4.4M147.8 256.6h4.4M152.6 255.3V258M150.4 255.3h4.4M150.4 258h4.4M155.2 256.2V259.1M153 256.2h4.4M153 259.1h4.4M157.8 257.2V259.7M155.6 257.2h4.4M155.6 259.7h4.4M160.3 257.9V260.3M158.1 257.9h4.4M158.1 260.3h4.4M162.9 258.9V261.4M160.7 258.9h4.4M160.7 261.4h4.4M165.5 259.2V261.7M163.3 259.2h4.4M163.3 261.7h4.4M168.1 259.7V262.4M165.9 259.7h4.4M165.9 262.4h4.4M170.7 260.4V262.8M168.5 260.4h4.4M168.5 262.8h4.4M173.3 260.4V263.5M171.1 260.4h4.4M171.1 263.5h4.4M175.9 260.7V263.5M173.7 260.7h4.4M173.7 263.5h4.4M178.4 261.5V263.9M176.2 261.5h4.4M176.2 263.9h4.4M181 261.9V264.3M178.8 261.9h4.4M178.8 264.3h4.4M183.6 262.1V264.6M181.4 262.1h4.4M181.4 264.6h4.4M186.2 262.5V265M184 262.5h4.4M184 265h4.4M188.8 263V265.2M186.6 263h4.4M186.6 265.2h4.4M191.4 262.9V265.7M189.2 262.9h4.4M189.2 265.7h4.4M193.9 263.2V266.1M191.7 263.2h4.4M191.7 266.1h4.4M196.5 263.8V266.3M194.3 263.8h4.4M194.3 266.3h4.4M199.1 263.8V266.3M196.9 263.8h4.4M196.9 266.3h4.4M201.7 264.2V266.4M199.5 264.2h4.4M199.5 266.4h4.4M204.3 264.3V266.5M202.1 264.3h4.4M202.1 266.5h4.4M206.9 264.5V266.9M204.7 264.5h4.4M204.7 266.9h4.4M209.5 264.6V266.9M207.3 264.6h4.4M207.3 266.9h4.4M212 264.5V267.2M209.8 264.5h4.4M209.8 267.2h4.4M214.6 265.1V267.3M212.4 265.1h4.4M212.4 267.3h4.4M217.2 265.2V267.3M215 265.2h4.4M215 267.3h4.4M219.8 265.1V267.8M217.6 265.1h4.4M217.6 267.8h4.4M222.4 265.3V267.8M220.2 265.3h4.4M220.2 267.8h4.4M225 265.6V267.8M222.8 265.6h4.4M222.8 267.8h4.4M227.6 265.7V268.1M225.4 265.7h4.4M225.4 268.1h4.4M230.1 265.9V268M227.9 265.9h4.4M227.9 268h4.4M232.7 266V268.4M230.5 266h4.4M230.5 268.4h4.4M235.3 265.7V268.5M233.1 265.7h4.4M233.1 268.5h4.4" stroke="#a2c656" stroke-width="0.75" fill="none"/><path d="M31.1 256.2h0M33.7 254h0M36.3 249.3h0M38.8 254h0M41.4 255.6h0M44 249.4h0M46.6 244h0M49.2 238.2h0M51.8 232.7h0M54.4 227.1h0M56.9 220.8h0M59.5 213.7h0M62.1 210.1h0M64.7 207.6h0M67.3 206.4h0M69.9 206.3h0M72.5 204.9h0M75 204.1h0M77.6 204h0M80.2 203.5h0M82.8 204.2h0M85.4 204.3h0M88 205.9h0M90.5 207.9h0M93.1 210h0M95.7 213h0M98.3 216.1h0M100.9 217.9h0M103.5 219.1h0M106.1 223.3h0M108.6 224.8h0M111.2 226.4h0M113.8 228.7h0M116.4 231.1h0M119 234.1h0M121.6 236.6h0M124.2 238h0M126.7 240.3h0M129.3 242.2h0M131.9 244.5h0M134.5 246.9h0M137.1 248.2h0M139.7 249.5h0M142.2 251.5h0M144.8 253.4h0M147.4 254.2h0M150 255.1h0M152.6 256.6h0M155.2 257.6h0M157.8 258.4h0M160.3 259.1h0M162.9 260.1h0M165.5 260.5h0M168.1 261h0M170.7 261.6h0M173.3 262h0M175.9 262.1h0M178.4 262.7h0M181 263.1h0M183.6 263.4h0M186.2 263.8h0M188.8 264.1h0M191.4 264.3h0M193.9 264.7h0M196.5 265h0M199.1 265.1h0M201.7 265.3h0M204.3 265.4h0M206.9 265.7h0M209.5 265.8h0M212 265.8h0M214.6 266.2h0M217.2 266.3h0M219.8 266.5h0M222.4 266.5h0M225 266.7h0M227.6 266.9h0M230.1 266.9h0M232.7 267.2h0M235.3 267.1h0" stroke="#88b82e" stroke-width="3.3" stroke-linecap="round" fill="none"/>
<path d="M31.1 176.6V199.5M28.9 176.6h4.4M28.9 199.5h4.4M33.7 184.1V201.9M31.5 184.1h4.4M31.5 201.9h4.4M36.3 169.3V184.2M34.1 169.3h4.4M34.1 184.2h4.4M38.8 161.3V175.7M36.6 161.3h4.4M36.6 175.7h4.4M41.4 149.5V162.7M39.2 149.5h4.4M39.2 162.7h4.4M44 144.3V159.4M41.8 144.3h4.4M41.8 159.4h4.4M46.6 140.8V154.5M44.4 140.8h4.4M44.4 154.5h4.4M49.2 134.2V148.8M47 134.2h4.4M47 148.8h4.4M51.8 122.9V136M49.6 122.9h4.4M49.6 136h4.4M54.4 115.2V128.1M52.2 115.2h4.4M52.2 128.1h4.4M56.9 110V125.4M54.7 110h4.4M54.7 125.4h4.4M59.5 111.1V127.1M57.3 111.1h4.4M57.3 127.1h4.4M62.1 114.6V129.7M59.9 114.6h4.4M59.9 129.7h4.4M64.7 113.5V128.4M62.5 113.5h4.4M62.5 128.4h4.4M67.3 117.4V132.1M65.1 117.4h4.4M65.1 132.1h4.4M69.9 125.9V139.7M67.7 125.9h4.4M67.7 139.7h4.4M72.5 130.9V142.5M70.3 130.9h4.4M70.3 142.5h4.4M75 133.3V145.8M72.8 133.3h4.4M72.8 145.8h4.4M77.6 139.3V150.9M75.4 139.3h4.4M75.4 150.9h4.4M80.2 147.4V157.4M78 147.4h4.4M78 157.4h4.4M82.8 153.8V163.5M80.6 153.8h4.4M80.6 163.5h4.4M85.4 162.2V172.3M83.2 162.2h4.4M83.2 172.3h4.4M88 171.1V180.6M85.8 171.1h4.4M85.8 180.6h4.4M90.5 182.1V192.2M88.3 182.1h4.4M88.3 192.2h4.4M93.1 194.2V204.2M90.9 194.2h4.4M90.9 204.2h4.4M95.7 200.5V208.9M93.5 200.5h4.4M93.5 208.9h4.4M98.3 204.4V213.8M96.1 204.4h4.4M96.1 213.8h4.4M100.9 211.1V220.1M98.7 211.1h4.4M98.7 220.1h4.4M103.5 218.2V226.7M101.3 218.2h4.4M101.3 226.7h4.4M106.1 223.7V230.6M103.9 223.7h4.4M103.9 230.6h4.4M108.6 229.1V235.4M106.4 229.1h4.4M106.4 235.4h4.4M111.2 232.2V238.4M109 232.2h4.4M109 238.4h4.4M113.8 235.4V241.3M111.6 235.4h4.4M111.6 241.3h4.4M116.4 238.6V244.4M114.2 238.6h4.4M114.2 244.4h4.4M119 241.2V247.6M116.8 241.2h4.4M116.8 247.6h4.4M121.6 243.1V249.9M119.4 243.1h4.4M119.4 249.9h4.4M124.2 245.6V252.1M122 245.6h4.4M122 252.1h4.4M126.7 248.3V254M124.5 248.3h4.4M124.5 254h4.4M129.3 250V255.9M127.1 250h4.4M127.1 255.9h4.4M131.9 251.9V257.9M129.7 251.9h4.4M129.7 257.9h4.4M134.5 254.6V259.3M132.3 254.6h4.4M132.3 259.3h4.4M137.1 255.3V260.9M134.9 255.3h4.4M134.9 260.9h4.4M139.7 255.8V261.8M137.5 255.8h4.4M137.5 261.8h4.4M142.2 256.8V262.5M140 256.8h4.4M140 262.5h4.4M144.8 257.6V263.2M142.6 257.6h4.4M142.6 263.2h4.4M147.4 258.1V263.3M145.2 258.1h4.4M145.2 263.3h4.4M150 259V263.6M147.8 259h4.4M147.8 263.6h4.4M152.6 259.2V264.7M150.4 259.2h4.4M150.4 264.7h4.4M155.2 259.9V264.7M153 259.9h4.4M153 264.7h4.4M157.8 259.9V265.4M155.6 259.9h4.4M155.6 265.4h4.4M160.3 259.9V265.7M158.1 259.9h4.4M158.1 265.7h4.4M162.9 260.8V265.7M160.7 260.8h4.4M160.7 265.7h4.4M165.5 261.1V266M163.3 261.1h4.4M163.3 266h4.4M168.1 261.1V266.7M165.9 261.1h4.4M165.9 266.7h4.4M170.7 261.2V266.6M168.5 261.2h4.4M168.5 266.6h4.4M173.3 262.2V266.6M171.1 262.2h4.4M171.1 266.6h4.4M175.9 262.5V266.9M173.7 262.5h4.4M173.7 266.9h4.4M178.4 262.8V267.2M176.2 262.8h4.4M176.2 267.2h4.4" stroke="#86a456" stroke-width="0.75" fill="none"/><path d="M31.1 188.1h0M33.7 193h0M36.3 176.8h0M38.8 168.5h0M41.4 156.1h0M44 151.8h0M46.6 147.7h0M49.2 141.5h0M51.8 129.4h0M54.4 121.7h0M56.9 117.7h0M59.5 119.1h0M62.1 122.1h0M64.7 121h0M67.3 124.7h0M69.9 132.8h0M72.5 136.7h0M75 139.5h0M77.6 145.1h0M80.2 152.4h0M82.8 158.6h0M85.4 167.3h0M88 175.9h0M90.5 187.1h0M93.1 199.2h0M95.7 204.7h0M98.3 209.1h0M100.9 215.6h0M103.5 222.4h0M106.1 227.1h0M108.6 232.2h0M111.2 235.3h0M113.8 238.4h0M116.4 241.5h0M119 244.4h0M121.6 246.5h0M124.2 248.9h0M126.7 251.1h0M129.3 253h0M131.9 254.9h0M134.5 257h0M137.1 258.1h0M139.7 258.8h0M142.2 259.7h0M144.8 260.4h0M147.4 260.7h0M150 261.3h0M152.6 261.9h0M155.2 262.3h0M157.8 262.6h0M160.3 262.8h0M162.9 263.3h0M165.5 263.6h0M168.1 263.9h0M170.7 263.9h0M173.3 264.4h0M175.9 264.7h0M178.4 265h0" stroke="#274f16" stroke-width="3.3" stroke-linecap="round" fill="none"/>
<path d="M31.1 263.3V265.6M28.9 263.3h4.4M28.9 265.6h4.4M33.7 263.7V265.6M31.5 263.7h4.4M31.5 265.6h4.4M62.1 246V247.9M59.9 246h4.4M59.9 247.9h4.4M64.7 243V245.2M62.5 243h4.4M62.5 245.2h4.4M67.3 240.9V242.9M65.1 240.9h4.4M65.1 242.9h4.4M69.9 240.1V242.4M67.7 240.1h4.4M67.7 242.4h4.4M72.5 238.3V240.7M70.3 238.3h4.4M70.3 240.7h4.4M75 238.5V240.5M72.8 238.5h4.4M72.8 240.5h4.4M77.6 237.1V239.1M75.4 237.1h4.4M75.4 239.1h4.4M80.2 237.9V239.9M78 237.9h4.4M78 239.9h4.4M82.8 238.4V240.3M80.6 238.4h4.4M80.6 240.3h4.4M85.4 239.3V241.5M83.2 239.3h4.4M83.2 241.5h4.4M88 240.2V242.1M85.8 240.2h4.4M85.8 242.1h4.4M90.5 239.9V241.9M88.3 239.9h4.4M88.3 241.9h4.4M93.1 239.9V241.8M90.9 239.9h4.4M90.9 241.8h4.4M95.7 239.9V242.2M93.5 239.9h4.4M93.5 242.2h4.4M98.3 239.7V241.7M96.1 239.7h4.4M96.1 241.7h4.4M100.9 241.2V243.2M98.7 241.2h4.4M98.7 243.2h4.4M103.5 242V244M101.3 242h4.4M101.3 244h4.4M106.1 241.9V244.1M103.9 241.9h4.4M103.9 244.1h4.4M108.6 243.5V245.4M106.4 243.5h4.4M106.4 245.4h4.4M111.2 244.6V246.8M109 244.6h4.4M109 246.8h4.4M113.8 246.2V248M111.6 246.2h4.4M111.6 248h4.4" stroke="#c2e278" stroke-width="0.75" fill="none"/><path d="M31.1 264.5h0M33.7 264.6h0M36.3 264.9h0M38.8 265.8h0M41.4 265.5h0M44 263.9h0M46.6 262.2h0M49.2 260.6h0M51.8 259.1h0M54.4 257.1h0M56.9 255h0M59.5 252.5h0M62.1 246.9h0M64.7 244.1h0M67.3 241.9h0M69.9 241.3h0M72.5 239.5h0M75 239.5h0M77.6 238.1h0M80.2 238.9h0M82.8 239.3h0M85.4 240.4h0M88 241.1h0M90.5 240.9h0M93.1 240.9h0M95.7 241h0M98.3 240.7h0M100.9 242.2h0M103.5 243h0M106.1 243h0M108.6 244.5h0M111.2 245.7h0M113.8 247.1h0M116.4 248.3h0M119 249.8h0M121.6 250.8h0M124.2 251.6h0M126.7 252.3h0M129.3 253.7h0M131.9 254.3h0M134.5 255.3h0M137.1 256.2h0M139.7 256.7h0M142.2 257.5h0M144.8 258.1h0M147.4 258.7h0M150 259.2h0M152.6 259.7h0M155.2 260.1h0M157.8 260.5h0M160.3 260.9h0M162.9 261.4h0M165.5 262.1h0M168.1 262.3h0M170.7 262.7h0M173.3 263.1h0M175.9 263.2h0M178.4 263.5h0M181 263.7h0M183.6 264h0M186.2 264.2h0M188.8 264.4h0M191.4 264.8h0M193.9 265.1h0M196.5 265.3h0M199.1 265.5h0M201.7 265.4h0M204.3 265.7h0M206.9 265.7h0M209.5 265.9h0M212 266.3h0M214.6 266.4h0M217.2 266.6h0M219.8 266.8h0M222.4 266.9h0M225 267.1h0M227.6 267.2h0M230.1 267.3h0M232.7 267.4h0M235.3 267.5h0" stroke="#a4d63c" stroke-width="3.3" stroke-linecap="round" fill="none"/>
<path d="M31.1 272.7h0M33.7 272.5h0M36.3 272.2h0M38.8 271.9h0M41.4 271.7h0M44 271.5h0M46.6 271.1h0M49.2 270.8h0M51.8 270.6h0M54.4 270.3h0M56.9 269.9h0M59.5 269.6h0M62.1 269.4h0M64.7 269.2h0M67.3 269h0M69.9 268.7h0M72.5 268.4h0M75 268.2h0M77.6 267.9h0M80.2 267.7h0M82.8 267.2h0M85.4 266.9h0M88 266.7h0M90.5 266.6h0M93.1 266.1h0M95.7 265.7h0M98.3 265.7h0M100.9 265.9h0M103.5 266.1h0M106.1 266.5h0M108.6 266.4h0M111.2 266.6h0M113.8 266.6h0M116.4 266.7h0M119 266.8h0M121.6 266.8h0M124.2 266.9h0M126.7 266.9h0M129.3 267.1h0M131.9 267.1h0M134.5 267.2h0M137.1 267.3h0M139.7 267.2h0M142.2 267.3h0M144.8 267.1h0M147.4 267.3h0M150 267.5h0M152.6 267.4h0M155.2 267.5h0M157.8 267.5h0M160.3 267.5h0M162.9 267.6h0M165.5 267.8h0M168.1 267.6h0M170.7 267.6h0M173.3 267.7h0M175.9 267.8h0M178.4 267.6h0M181 267.7h0M183.6 267.8h0M186.2 267.7h0M188.8 267.7h0M191.4 267.9h0M193.9 267.7h0M196.5 267.9h0M199.1 267.8h0M201.7 268h0M204.3 267.8h0M206.9 267.8h0M209.5 267.8h0M212 267.9h0M214.6 267.9h0M217.2 267.9h0M219.8 267.9h0M222.4 267.9h0M225 268h0M227.6 268h0M230.1 268h0M232.7 268.1h0M235.3 268.1h0" stroke="#d6f25a" stroke-width="3.4" stroke-linecap="round" fill="none"/>
</g>
<g id="inset">
<path d="M134.5 112V193.1H240.5" stroke="#a8a8a8" stroke-width="0.55" fill="none"/>
<text x="133.3" y="128.5" font-size="5.1" text-anchor="end">50</text>
<text x="133.3" y="141" font-size="5.1" text-anchor="end">45</text>
<text x="133.3" y="153.4" font-size="5.1" text-anchor="end">40</text>
<text x="133.3" y="165.9" font-size="5.1" text-anchor="end">35</text>
<text x="133.3" y="178.3" font-size="5.1" text-anchor="end">30</text>
<text x="133.3" y="190.8" font-size="5.1" text-anchor="end">25</text>
<text x="159.3" y="199.2" font-size="5.1" text-anchor="middle">100</text>
<text x="186.1" y="199.2" font-size="5.1" text-anchor="middle">200</text>
<text x="212.9" y="199.2" font-size="5.1" text-anchor="middle">300</text>
<path d="M134.5 126.7h1.4M134.5 139.2h1.4M134.5 151.6h1.4M134.5 164.1h1.4M134.5 176.5h1.4M134.5 188.9h1.4M159.3 193.1v-1.4M186.1 193.1v-1.4M212.9 193.1v-1.4" stroke="#a8a8a8" stroke-width="0.55" fill="none"/>
<text transform="translate(124.8 155.3) rotate(-90)" font-size="6.6" text-anchor="middle" textLength="58.4" lengthAdjust="spacingAndGlyphs">Temperature ( °C)</text>
<text x="186" y="205.4" font-size="6.7" text-anchor="middle" textLength="43" lengthAdjust="spacingAndGlyphs">Position ( mm)</text>
<path d="M134.1 114.4h0M136.3 115.8h0M135.3 119.1h0M137.7 122h0M139.1 124.8h0M140.5 128.3h0M141.8 132.1h0M143.2 136.1h0M144.6 140.1h0M146 143.8h0M147.3 146.8h0M148.7 149.7h0M150.1 152.3h0M151.5 154.8h0M152.8 157.3h0M154.2 159.6h0M155.6 161.7h0M157 163.7h0M158.3 165.6h0M159.7 167h0M161.1 168.4h0M162.5 169.8h0M163.8 171.2h0M165.2 172.6h0M166.6 173.6h0M168 174.7h0M169.3 175.7h0M170.7 176.7h0M172.1 177.8h0M173.5 178.8h0M174.8 179.7h0M176.2 180.6h0M177.6 181.4h0M179 182.3h0M180.3 183.1h0M181.7 183.9h0M183.1 184.8h0M184.5 185.2h0M185.8 185.7h0M187.2 186.1h0M188.6 186.5h0M190 186.9h0M191.3 187.3h0M192.7 187.7h0M194.1 188.1h0M195.5 188.4h0M196.8 188.7h0M198.2 189h0M199.6 189.2h0M201 189.5h0M202.3 189.8h0M203.7 190h0M205.1 190.3h0M206.5 190.5h0M207.8 190.7h0M209.2 190.8h0M210.6 191h0M212 191.2h0M213.3 191.4h0M214.7 191.5h0M216.1 191.7h0M217.5 191.9h0M218.8 192h0M220.2 192.2h0M221.6 192.3h0M223 192.4h0M224.3 192.5h0M225.7 192.6h0M227.1 192.7h0M228.5 192.8h0M229.8 192.9h0M231.2 193h0M232.6 193.1h0M234 193.2h0M235.3 193.3h0M236.7 193.4h0" stroke="#0a0a0a" stroke-width="2.9" stroke-linecap="round" fill="none"/>
</g>
<g id="panelC">
<text x="263.5" y="114.9" font-size="14.2" font-weight="bold" class="bl" textLength="9.3" lengthAdjust="spacingAndGlyphs">C</text>
<path d="M296.8 111.2V275.2H505" stroke="#8a8a8a" stroke-width="0.65" fill="none"/>
<text x="294.7" y="263.1" font-size="8.8" text-anchor="end">1</text>
<text x="294.7" y="233.5" font-size="8.8" text-anchor="end">2</text>
<text x="294.7" y="204" font-size="8.8" text-anchor="end">3</text>
<text x="294.7" y="174.4" font-size="8.8" text-anchor="end">4</text>
<text x="294.7" y="144.9" font-size="8.8" text-anchor="end">5</text>
<text x="294.7" y="115.3" font-size="8.8" text-anchor="end">6</text>
<text x="296.7" y="285.1" font-size="8.6" text-anchor="middle">0</text>
<text x="345.2" y="285.1" font-size="8.6" text-anchor="middle">0.2</text>
<text x="394.4" y="285.1" font-size="8.6" text-anchor="middle">0.4</text>
<text x="443.6" y="285.1" font-size="8.6" text-anchor="middle">0.6</text>
<text x="492.8" y="285.1" font-size="8.6" text-anchor="middle">0.8</text>
<path d="M296.8 260.5h1.8M296.8 230.9h1.8M296.8 201.4h1.8M296.8 171.8h1.8M296.8 142.3h1.8M296.8 112.8h1.8M345.2 275.2v-1.8M394.4 275.2v-1.8M443.6 275.2v-1.8M492.8 275.2v-1.8" stroke="#8a8a8a" stroke-width="0.65" fill="none"/>
<text transform="translate(285.8 197.5) rotate(-90)" font-size="9.6" text-anchor="middle" textLength="157.5" lengthAdjust="spacingAndGlyphs">Average receptor ratio (&lt;Tar/Tsr&gt;)</text>
<text x="399.8" y="295.4" font-size="11.2" text-anchor="middle" textLength="14.6" lengthAdjust="spacingAndGlyphs">OD</text>
<rect x="308.6" y="247.9" width="5" height="5" fill="#1f4a17"/>
<rect x="320.1" y="262" width="5" height="5" fill="#1f4a17"/>
<rect x="358" y="252.6" width="5" height="5" fill="#1f4a17"/>
<rect x="383.2" y="237.2" width="5" height="5" fill="#1f4a17"/>
<rect x="423.5" y="223.7" width="5" height="5" fill="#1f4a17"/>
<rect x="449.8" y="139.8" width="5" height="5" fill="#1f4a17"/>
<rect x="459.5" y="115" width="5" height="5" fill="#1f4a17"/>
<rect x="492.8" y="162" width="5" height="5" fill="#1f4a17"/>
<circle cx="309.1" cy="262.9" r="2.75" fill="#fff" stroke="#2c4a1a" stroke-width="0.95"/>
<circle cx="319.5" cy="256.8" r="2.75" fill="#fff" stroke="#2c4a1a" stroke-width="0.95"/>
<circle cx="369.6" cy="241.3" r="2.75" fill="#fff" stroke="#2c4a1a" stroke-width="0.95"/>
<circle cx="421.7" cy="227.6" r="2.75" fill="#fff" stroke="#2c4a1a" stroke-width="0.95"/>
<circle cx="437.5" cy="154.8" r="2.75" fill="#fff" stroke="#2c4a1a" stroke-width="0.95"/>
<circle cx="465.7" cy="125.9" r="2.75" fill="#fff" stroke="#2c4a1a" stroke-width="0.95"/>
</g>
</svg></body></html>
